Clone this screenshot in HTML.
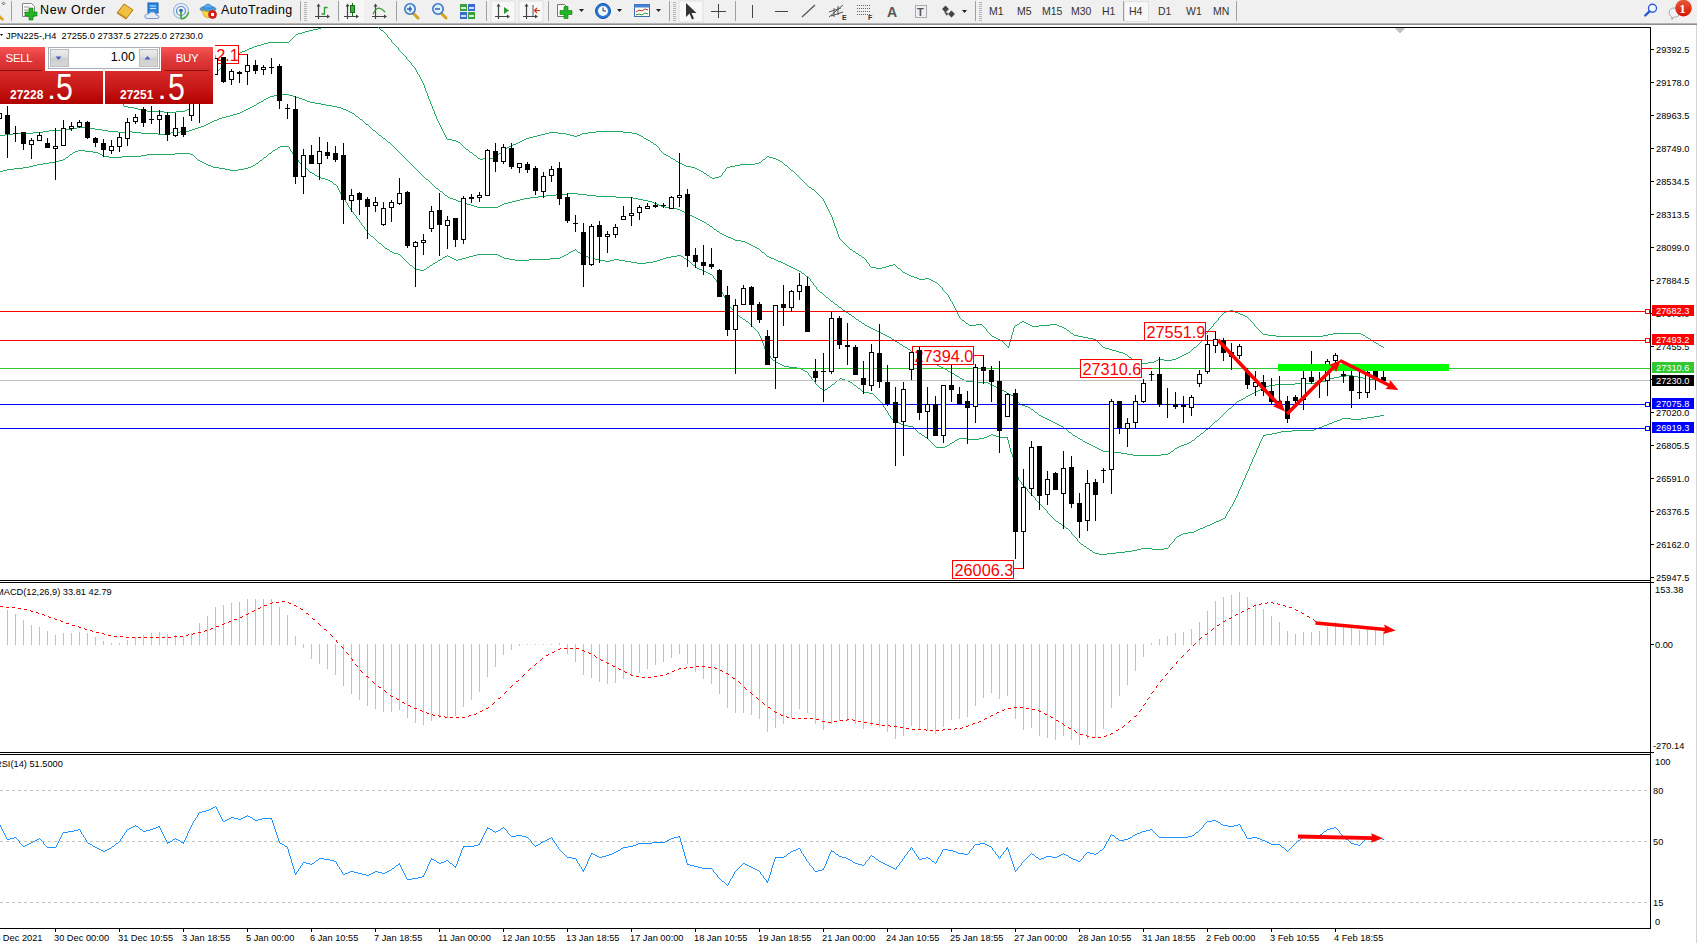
<!DOCTYPE html>
<html><head><meta charset="utf-8"><title>JPN225-,H4</title>
<style>
html,body{margin:0;padding:0;background:#fff;}
body{width:1697px;height:943px;overflow:hidden;position:relative;font-family:"Liberation Sans",sans-serif;}
#tb{position:absolute;left:0;top:0;width:1697px;height:23px;background:#f0f0f0;}
#tbl{position:absolute;left:0;top:23px;width:1697px;height:2px;background:linear-gradient(#c6c6c6,#7c7c7c);}
.t{position:absolute;white-space:nowrap;color:#000;}
.tbt{font-size:12.500px;top:3px;letter-spacing:0.350px;}
.tf{font-size:10.5px;top:5px;color:#333;}
svg{position:absolute;left:0;top:0;}
.ax{font-size:9.250px;font-family:"Liberation Sans",sans-serif;fill:#000;}
.lb{font-size:16.300px;font-family:"Liberation Sans",sans-serif;fill:#f00;}
#panel{position:absolute;left:0;top:47px;width:213px;height:57px;}
.btn{position:absolute;top:0;height:24px;background:linear-gradient(#f85555,#e03a3a 50%,#d42a2a);color:#fff;font-size:11.5px;text-align:center;line-height:23px;letter-spacing:-0.3px;}
.pr{position:absolute;top:24px;height:33px;background:linear-gradient(#d82a2a,#c81818 50%,#b00000);color:#fff;}
.pr .s{position:absolute;font-weight:bold;font-size:12px;bottom:2px;}
.pr .b{position:absolute;font-size:37px;bottom:-4.500px;transform:scaleX(0.82);transform-origin:left bottom;}
.pr .d{position:absolute;font-size:22px;bottom:-1px;font-weight:bold;}
#vol{position:absolute;left:48px;top:0;width:110px;height:20px;border:1px solid #a9afb8;background:#fff;}
.sp{position:absolute;top:1px;width:19px;height:18px;background:linear-gradient(#ececec,#dedede 45%,#cfcfcf 50%,#d6d6d6);border:1px solid #b8bcc4;box-sizing:border-box;}
</style></head><body>

<div id="tb"></div><div id="tbl"></div>
<div style="position:absolute;left:1124px;top:1px;width:25px;height:21px;background:#f8f8f8;border:1px solid #e0e0e0;box-sizing:border-box"></div>
<div class="t tbt" style="left:40px;letter-spacing:0.600px;">New Order</div>
<div class="t tbt" style="left:221px;">AutoTrading</div>
<div class="t tf" style="left:989px;">M1</div>
<div class="t tf" style="left:1017px;">M5</div>
<div class="t tf" style="left:1042px;">M15</div>
<div class="t tf" style="left:1071px;">M30</div>
<div class="t tf" style="left:1102px;">H1</div>
<div class="t tf" style="left:1129px;">H4</div>
<div class="t tf" style="left:1158px;">D1</div>
<div class="t tf" style="left:1186px;">W1</div>
<div class="t tf" style="left:1213px;">MN</div>
<svg width="1697" height="943" viewBox="0 0 1697 943" shape-rendering="crispEdges">
<g shape-rendering="auto">
<rect x="11" y="1" width="1" height="20" fill="#a0a0a0"/>
<rect x="300" y="1" width="1" height="20" fill="#a0a0a0"/>
<rect x="304" y="2" width="3" height="1" fill="#b4b4b4"/>
<rect x="304" y="4" width="3" height="1" fill="#b4b4b4"/>
<rect x="304" y="6" width="3" height="1" fill="#b4b4b4"/>
<rect x="304" y="8" width="3" height="1" fill="#b4b4b4"/>
<rect x="304" y="10" width="3" height="1" fill="#b4b4b4"/>
<rect x="304" y="12" width="3" height="1" fill="#b4b4b4"/>
<rect x="304" y="14" width="3" height="1" fill="#b4b4b4"/>
<rect x="304" y="16" width="3" height="1" fill="#b4b4b4"/>
<rect x="304" y="18" width="3" height="1" fill="#b4b4b4"/>
<rect x="304" y="20" width="3" height="1" fill="#b4b4b4"/>
<path d="M0 15 L4 19 L3 21 L0 19Z" fill="#e0a020"/>
<rect x="2.500" y="2.500" width="2" height="2" fill="none" stroke="#333" stroke-width="0.7" transform="rotate(45 3.5 3.5)"/>
<path d="M22.5 3.5h9l3 3v10h-12z" fill="#fafafa" stroke="#888"/>
<path d="M24 7h5M24 10h8M24 12.5h6" stroke="#999" stroke-width="1"/>
<path d="M29 9.5h4v4h4v4h-4v4h-4v-4h-4v-4h4z" fill="#22b422" stroke="#0a7a0a" stroke-width="0.6" transform="translate(0,-1.5)"/>
<path d="M117 13 L124 4 L133 10 L126 19 Z" fill="#f0c040" stroke="#b07810"/>
<path d="M117 13 L126 19 L126 17 L118 12Z" fill="#c89020"/>
<rect x="148" y="3" width="10" height="10" fill="#2a8ae0" stroke="#1560b0"/>
<path d="M150 6h6M150 8.5h6" stroke="#cfe6ff"/>
<path d="M147 18.500 q-3-0.500-2-3 q1-2 3.500-1.500 q1.500-3 5-2 q2.500 0.500 2.500 3 q3 0 3 2 q0 1.500-2 1.500z" fill="#e4ecf8" stroke="#6a8cc8" stroke-width="0.9"/>
<circle cx="181" cy="11" r="7.5" fill="none" stroke="#9ab8e8" stroke-width="1.2"/>
<circle cx="181" cy="11" r="4.5" fill="none" stroke="#5a8ad8" stroke-width="1.2"/>
<circle cx="181" cy="10.5" r="1.8" fill="#2060d0"/>
<path d="M181 11 V19" stroke="#30a030" stroke-width="1.6"/><path d="M181 19 A8 8 0 0 0 188.500 12" stroke="#40b040" stroke-width="1.6" fill="none"/>
<ellipse cx="208" cy="9" rx="8" ry="3" fill="#4a9ae0" stroke="#2a70b8" stroke-width="0.6"/>
<path d="M203 8 q5-8 10 0z" fill="#5aaaf0" stroke="#2a70b8" stroke-width="0.6"/>
<path d="M202 10 q6 3 12 0 l-3 7 q-4 2 -7-1z" fill="#f8d840" stroke="#c09010" stroke-width="0.6"/>
<circle cx="212.500" cy="14.5" r="4" fill="#e02020" stroke="#a01010" stroke-width="0.6"/>
<rect x="211" y="13" width="3" height="3" fill="#fff"/>
<path d="M318.5 5 V19 M315 16.5 H328" stroke="#444" stroke-width="1.2" fill="none"/>
<path d="M318.5 3.500 l-2 3 h4z M330 16.500 l-3 -2 v4z" fill="#444"/>
<path d="M324.500 7 V14.500 M324.500 7.500 h3 M324.500 14 h-3" stroke="#2a9a2a" stroke-width="1.3" fill="none"/>
<rect x="338" y="1" width="1" height="20" fill="#a0a0a0"/>
<rect x="340" y="0" width="24" height="22" fill="#f7f7f7"/>
<path d="M347.5 5 V19 M344 16.5 H357" stroke="#444" stroke-width="1.2" fill="none"/>
<path d="M347.5 3.500 l-2 3 h4z M359 16.500 l-3 -2 v4z" fill="#444"/>
<rect x="350.500" y="5.5" width="4" height="7" fill="#3ab03a" stroke="#1a701a"/><path d="M352.500 3V5M352.500 13v3" stroke="#1a701a"/>
<path d="M375.5 5 V19 M372 16.5 H385" stroke="#444" stroke-width="1.2" fill="none"/>
<path d="M375.5 3.500 l-2 3 h4z M387 16.500 l-3 -2 v4z" fill="#444"/>
<path d="M373 14 q3-6 6-5.800 q3 0.300 6 3.800" stroke="#2a9a2a" stroke-width="1.2" fill="none"/>
<rect x="396" y="1" width="1" height="20" fill="#a0a0a0"/>
<path d="M413 13 l5 5" stroke="#d8a020" stroke-width="3" stroke-linecap="round"/>
<circle cx="410" cy="9" r="5.2" fill="#dff0ff" stroke="#3a78c8" stroke-width="1.6"/>
<path d="M407 9h5" stroke="#2a60b0" stroke-width="1.5"/>
<path d="M410 6.5v5" stroke="#2a60b0" stroke-width="1.5"/>
<path d="M441 13 l5 5" stroke="#d8a020" stroke-width="3" stroke-linecap="round"/>
<circle cx="438" cy="9" r="5.2" fill="#dff0ff" stroke="#3a78c8" stroke-width="1.6"/>
<path d="M435 9h5" stroke="#2a60b0" stroke-width="1.5"/>
<rect x="460" y="4" width="7" height="7" fill="#3aa03a"/>
<rect x="461" y="7" width="5" height="2" fill="#fff" opacity="0.8"/>
<rect x="468" y="4" width="7" height="7" fill="#3a6ad0"/>
<rect x="469" y="7" width="5" height="2" fill="#fff" opacity="0.8"/>
<rect x="460" y="12" width="7" height="7" fill="#3a6ad0"/>
<rect x="461" y="15" width="5" height="2" fill="#fff" opacity="0.8"/>
<rect x="468" y="12" width="7" height="7" fill="#3aa03a"/>
<rect x="469" y="15" width="5" height="2" fill="#fff" opacity="0.8"/>
<rect x="486" y="1" width="1" height="20" fill="#a0a0a0"/>
<rect x="491" y="1" width="24" height="21" fill="#f8f8f8" stroke="#e0e0e0"/>
<path d="M498.5 5 V19 M495 16.5 H508" stroke="#444" stroke-width="1.2" fill="none"/>
<path d="M498.5 3.500 l-2 3 h4z M510 16.500 l-3 -2 v4z" fill="#444"/>
<path d="M504 7 l5 3.500 l-5 3.500z" fill="#2a9a2a"/>
<rect x="519" y="1" width="24" height="21" fill="#f8f8f8" stroke="#e0e0e0"/>
<path d="M526.5 5 V19 M523 16.5 H536" stroke="#444" stroke-width="1.2" fill="none"/>
<path d="M526.5 3.500 l-2 3 h4z M538 16.500 l-3 -2 v4z" fill="#444"/>
<path d="M533 5v11" stroke="#555"/><path d="M540 10.5h-5m2-2.500l-2.500 2.500 2.500 2.500" stroke="#d03010" fill="none" stroke-width="1.2"/>
<rect x="548" y="1" width="1" height="20" fill="#a0a0a0"/>
<path d="M557.500 4.500h7l3 3v9h-10z" fill="#fafafa" stroke="#777"/>
<path d="M564 9.500h4v4h4v4h-4v4h-4v-4h-4v-4h4z" fill="#22b422" stroke="#0a7a0a" stroke-width="0.6" transform="translate(0,-3)"/>
<path d="M579 9h5l-2.500 3z" fill="#222"/>
<circle cx="603" cy="11" r="7.5" fill="#2a78d8" stroke="#1a50a0"/><circle cx="603" cy="11" r="5" fill="#f4f8ff"/><path d="M603 7.500V11h3" stroke="#333" fill="none"/>
<path d="M617 9h5l-2.500 3z" fill="#222"/>
<rect x="634.500" y="4.500" width="15" height="12" fill="#fff" stroke="#3a6ab8"/><rect x="634.500" y="4.500" width="15" height="3" fill="#4a80d0"/>
<path d="M636 12 l3-2 3 1 3-2 3 1" stroke="#c03010" fill="none"/><path d="M636 15 l3-1 3 1 3-2 3 1" stroke="#2a9a2a" fill="none"/>
<path d="M656 9h5l-2.500 3z" fill="#222"/>
<rect x="669" y="1" width="1" height="20" fill="#a0a0a0"/>
<rect x="673" y="2" width="3" height="1" fill="#b4b4b4"/>
<rect x="673" y="4" width="3" height="1" fill="#b4b4b4"/>
<rect x="673" y="6" width="3" height="1" fill="#b4b4b4"/>
<rect x="673" y="8" width="3" height="1" fill="#b4b4b4"/>
<rect x="673" y="10" width="3" height="1" fill="#b4b4b4"/>
<rect x="673" y="12" width="3" height="1" fill="#b4b4b4"/>
<rect x="673" y="14" width="3" height="1" fill="#b4b4b4"/>
<rect x="673" y="16" width="3" height="1" fill="#b4b4b4"/>
<rect x="673" y="18" width="3" height="1" fill="#b4b4b4"/>
<rect x="673" y="20" width="3" height="1" fill="#b4b4b4"/>
<rect x="679" y="1" width="24" height="21" fill="#f8f8f8" stroke="#e0e0e0"/>
<path d="M686 3 v14 l3.500-3.500 2.500 6 2-1 -2.500-5.500 h5z" fill="#333"/>
<path d="M718.500 4v14M711 11.500h15" stroke="#444"/>
<rect x="735" y="1" width="1" height="20" fill="#a0a0a0"/>
<path d="M752.500 5v13" stroke="#444"/>
<path d="M775 11.500h13" stroke="#444"/>
<path d="M802 17 l13-12" stroke="#555" stroke-width="1.2"/>
<path d="M829 17 l14-12 M829 12 l12-4 M831 16 l12-4 M834 8v9 M838 6v9" stroke="#555" stroke-width="1"/>
<text x="842" y="20" font-size="7" font-family="Liberation Sans,sans-serif" font-weight="bold" fill="#333">E</text>
<path d="M857 5.5h14" stroke="#666" stroke-dasharray="1 1"/>
<path d="M857 8.5h14" stroke="#666" stroke-dasharray="1 1"/>
<path d="M857 11.5h14" stroke="#666" stroke-dasharray="1 1"/>
<path d="M857 14.5h14" stroke="#666" stroke-dasharray="1 1"/>
<text x="868" y="20" font-size="7" font-family="Liberation Sans,sans-serif" font-weight="bold" fill="#333">F</text>
<text x="887" y="17" font-size="14" font-family="Liberation Sans,sans-serif" font-weight="bold" fill="#555">A</text>
<rect x="915.500" y="5.500" width="11" height="12" fill="none" stroke="#666" stroke-dasharray="1 1"/>
<text x="917" y="16" font-size="11" font-family="Liberation Sans,sans-serif" font-weight="bold" fill="#555">T</text>
<path d="M942 9l3.500-3.500 3.500 3.500-3.500 3.500z M948 14l3.500-3.500 3.500 3.500-3.500 3.500z" fill="#444"/>
<path d="M944 12l3 4 1-3z" fill="#444"/>
<path d="M962 10h5l-2.500 3z" fill="#222"/>
<rect x="975" y="1" width="1" height="20" fill="#a0a0a0"/>
<rect x="979" y="2" width="3" height="1" fill="#b4b4b4"/>
<rect x="979" y="4" width="3" height="1" fill="#b4b4b4"/>
<rect x="979" y="6" width="3" height="1" fill="#b4b4b4"/>
<rect x="979" y="8" width="3" height="1" fill="#b4b4b4"/>
<rect x="979" y="10" width="3" height="1" fill="#b4b4b4"/>
<rect x="979" y="12" width="3" height="1" fill="#b4b4b4"/>
<rect x="979" y="14" width="3" height="1" fill="#b4b4b4"/>
<rect x="979" y="16" width="3" height="1" fill="#b4b4b4"/>
<rect x="979" y="18" width="3" height="1" fill="#b4b4b4"/>
<rect x="979" y="20" width="3" height="1" fill="#b4b4b4"/>
<rect x="1123" y="1" width="1" height="20" fill="#a0a0a0"/>
<rect x="1236" y="1" width="1" height="20" fill="#a0a0a0"/>
<circle cx="1652.500" cy="8.300" r="4" fill="#f4f8ff" stroke="#2a5ad0" stroke-width="1.4"/><path d="M1649.500 11.300l-4.300 4.200" stroke="#2a5ad0" stroke-width="2.4" stroke-linecap="round"/>
<path d="M1669.200 12.700 q0-4.700 5.100-4.700 q5.100 0 5.100 4.700 q0 4.500 -5.100 4.500 q-0.600 0 -1.200 -0.100 l-1 2.600 l-0.600-3 q-2.300-1.200-2.300-4z" fill="#f2f2f8" stroke="#aaa"/>
<defs><linearGradient id="bg1" x1="0" y1="0" x2="0" y2="1"><stop offset="0" stop-color="#e85a38"/><stop offset="1" stop-color="#d81400"/></linearGradient></defs>
<circle cx="1683.500" cy="8.100" r="8.300" fill="url(#bg1)"/>
<text x="1679.300" y="13" font-size="13" font-weight="bold" font-family="Liberation Serif,serif" fill="#fff">1</text>
</g>
<rect x="0" y="27" width="1651" height="1" fill="#000"/>
<rect x="1650" y="27" width="1" height="902" fill="#000"/>
<rect x="0" y="580" width="1651" height="1" fill="#000"/>
<rect x="0" y="582" width="1651" height="1" fill="#000"/>
<rect x="0" y="752" width="1651" height="1" fill="#000"/>
<rect x="0" y="754" width="1651" height="1" fill="#000"/>
<rect x="0" y="928" width="1651" height="1" fill="#000"/>
<rect x="1696" y="25" width="1" height="918" fill="#d4d4d4"/>
<path d="M1394 28 h11 l-5.500 5.500z" fill="#c0c0c0"/>
<path fill="none" stroke="#24A862" stroke-width="1" d="M318 28.5h3m-8 1h5m-9 1h4m-8 1h4m-7 1h3m-7 1h4m-6 1h2m-3 1h1m-2 1h1m-2 1h1m-2 1h1m-2 1h1m-2 1h1m-2 1h1m-22 1h21m-25 1h4m-7 1h3m-7 1h4m-7 1h3m-5 1h2m-5 1h3m-5 1h2m-4 1h2m-5 1h3m-5 1h2m-4 1h2m-4 1h2m-3 1h1m-3 1h2m-3 1h1m-2 1h1m-3 1h2m-3 1h1m-3 1h2m-3 1h1m-2 1h1m-2 1h1m-1.5 0.5v2m-1.5 0.5h1m-2 1h1m-2 1h1m-2 1h1m-1.5 0.5v2m-1.5 0.5h1m-2 1h1m-2 1h1m-2 1h1m-1.5 0.5v2m-1.5 0.5h1m-2 1h1m-2 1h1m-2 1h1m-1.5 0.5v2m-1.5 0.5h1m-2 1h1m-2 1h1m-2 1h1m-1.5 0.5v2m-1.5 0.5h1m-2 1h1m-1.5 0.5v2m-199.5 -0.5h8m0 1h15m175 0h1m-176 1h15m159 0h1m-160 1h15m143.5 -0.5v2m-143.5 -0.5h23m0 1h26m93 0h1m-94 1h12m80 0h1m-81 1h4m75.5 -0.5v2m-75.5 -0.5h3m0 1h2m69 0h1m-69.5 0.5v2m68 -2v2m-67.5 0.5h4m62.5 -0.5v2m-62.5 -0.5h6m0 1h4m51 0h1m-52 1h5m44 0h2m-46 1h4m38 0h2m-40 1h17m12 0h9m-21 1h12"/>
<path fill="none" stroke="#24A862" stroke-width="1" d="M378 27.5h1m0 1h1m0 1h1m0 1h2m0 1h1m0 1h1m0 1h1m0 1h1m0.5 0.5v2m0.5 0.5h1m0 1h1m0 1h1m0.5 0.5v2m0.5 0.5h1m0 1h1m0 1h1m0 1h1m0 1h1m0 1h1m0.5 0.5v2m0.5 0.5h1m0 1h1m0 1h1m0 1h1m0 1h1m0 1h1m0 1h1m0.5 0.5v2m0.5 0.5h1m0 1h1m0 1h1m0 1h1m0.5 0.5v2m0.5 0.5h1m0 1h1m0 1h1m0.5 0.5v2m1 0v2m1 0v2m0.5 0.5h1m0.5 0.5v2m1 0v2m1 0v2m1 0v2m1 0v2m1 0v3m1 0v3m1 0v2m1 0v3m1 0v3m1 0v2m1 0v3m1 0v2m1 0v3m1 0v2m1 0v3m1 0v2m1 0v3m1 0v2m1 0v2m1 0v2m1 0v2m1 0v2m1 0v2m1 0v2m152.5 -1.5h27m-74 1h9m30 0h8m27 0h9m-187.5 0.5v2m100.5 -1.5h4m9 0h8m16 0h6m44 0h5m-96 1h4m21 0h4m10 0h2m55 0h2m-193.5 0.5v2m91.5 -1.5h4m29 0h4m3 0h3m59 0h2m-108 1h4m37 0h3m64 0h2m-196.5 0.5v2m82.5 -1.5h4m110 0h1m-118 1h3m115 0h2m-199 1h5m72 0h2m120 0h2m-196 1h4m66 0h2m124 0h2m-194 1h2m62 0h2m128 0h1m-193 1h2m58 0h2m131 0h2m-193 1h1m55 0h2m135 0h1m-193 1h1m51 0h3m138 0h2m-194 1h1m48 0h2m143 0h1m-194 1h1m45 0h2m146 0h1m-194 1h1m42 0h2m149 0h1m-194 1h1m39 0h2m152.5 -0.5v2m-193.5 -0.5h2m36 0h1m-37 1h1m34 0h1m156 0h1m-192 1h1m32 0h1m158 0h1m-192 1h2m29 0h1m160 0h1m-191 1h1m26 0h2m162 0h1m-191 1h1m24 0h1m165 0h2m-192 1h2m21 0h1m168 0h2m-192 1h1m19 0h1m171 0h2m97 0h2m-292 1h1m17 0h1m174 0h1m95 0h1m2 0h4m-295 1h2m3 0h12m176 0h2m92 0h1m7 0h3m-296 1h3m190 0h2m88 0h2m11 0h2m-103 1h1m86 0h1m15 0h2m-104 1h2m83 0h1m18 0h2m-104 1h2m79 0h2m21 0h1m-103 1h2m73 0h4m24 0h1m-102 1h2m56 0h15m29 0h1m-101 1h2m49 0h5m45 0h2m-101 1h5m39 0h5m52 0h1m-97 1h4m32 0h3m58 0h1m-94 1h2m29 0h1m62 0h1m-93 1h2m26.5 -0.5v2m64.5 -1.5h1m-92 1h2m90 0h2m-92 1h2m21 0h1m68 0h1m-91 1h1m19 0h1m70 0h1m-91 1h2m16.5 -0.5v2m72.5 -1.5h1m-90 1h1m89 0h1m-90 1h2m12 0h1m75 0h1m-89 1h1m9 0h2m77 0h1m-89 1h2m3 0h4m80 0h1m-88 1h3m85 0h1m0 1h1m0 1h1m0 1h1m0 1h1m0 1h1m0 1h1m0 1h1m0 1h1m0 1h2m0 1h1m0 1h2m0 1h1m0 1h1m0 1h1m0 1h1m0 1h1m0 1h1m0 1h1m0 1h1m0 1h1m0.5 0.5v2m1 0v2m1 0v2m1 0v2m1 0v2m1 0v2m1 0v2m1 0v2m1 0v2m1 0v3m1 0v3m1 0v3m1 0v2m1 0v3m1 0v3m1 0v3m1 0v2m0.5 0.5h1m0 1h1m0 1h1m0 1h1m0 1h1m0 1h1m0 1h1m0 1h1m0 1h1m0 1h1m0 1h2m0 1h1m0 1h2m0 1h1m0 1h2m0 1h1m0 1h2m0 1h1m0 1h2m0 1h1m0 1h1m0.5 0.5v2m0.5 0.5h1m0 1h1m0.5 0.5v2m23.5 -1.5h2m-6 1h4m2 0h1m-26 1h1m15 0h3m7 0h1m-26 1h5m6 0h4m11 0h1m-22 1h6m16 0h2m0 1h1m0 1h1m0 1h1m0 1h2m0 1h2m0 1h2m0 1h2m0 1h3m0 1h3m0 1h2m6 0h4m-10 1h6m4 0h2m0 1h2m0 1h2m0 1h2m0 1h1m0 1h1m0 1h1m0 1h1m0 1h1m0.5 0.5v2m0.5 0.5h1m0 1h1m0 1h1m0 1h1m0 1h1m0.5 0.5v2m1 0v2m1 0v2m0.5 0.5h1m0.5 0.5v2m1 0v2m1 0v2m1 0v2m1 0v2m273.5 -1.5h3m-7 1h4m3 0h2m-277.5 0.5v2m266.5 -1.5h2m9 0h3m-15 1h1m14 0h2m-281.5 0.5v2m263.5 -1.5h1m17 0h3m-22 1h1m21 0h2m-285.5 0.5v2m260.5 -1.5h1m24 0h2m-28 1h1m27 0h1m-288 1h1m257.5 -0.5v2m29.5 -1.5h1m-288 1h1m287 0h1m-288 1h2m253 0h1m32 0h1m-287 1h1m57 0h2m192 0h1m34 0h1m-287 1h1m54 0h2m2 0h2m189 0h1m36 0h1m-287 1h2m51 0h1m6 0h2m186 0h1m38 0h1m-286 1h1m7 0h6m35 0h2m9 0h2m20 0h7m156.5 -0.5v2m41 -2v2m-285.5 -0.5h7m6 0h1m32 0h2m13 0h2m7 0h11m7 0h2m-76 1h1m30.5 -0.5v2m17.5 -1.5h7m20 0h3m150 0h1m42 0h1m-272 1h1m77 0h2m147 0h1m44 0h1m-272 1h1m27.5 -0.5v4m50.5 -3.5h2m144 0h1m46 0h1m-271.5 0.5v2m79.5 -1.5h1m142 0h1m48 0h1m-192 1h2m139.5 -0.5v2m50.5 -1.5h1m-273 1h1m81 0h1m190 0h1m-273 1h1m23.5 -0.5v3m57.5 -2.5h1m136 0h1m53 0h1m-273 1h1m81 0h2m133 0h1m55 0h1m70 0h28m-371 1h1m82 0h1m131.5 -0.5v2m57.5 -1.5h5m60 0h5m28 0h2m-372 1h1m19.5 -0.5v4m62.5 -3.5h4m190 0h8m47 0h5m35 0h2m-373 1h2m84 0h5m121 0h1m71 0h47m42 0h1m-372 1h2m87 0h5m115.5 -0.5v2m162.5 -1.5h2m-372 1h2m90 0h5m275 0h2m-372 1h2m10.5 -0.5v3m82.5 -2.5h3m106 0h1m167 0h1m-371 1h2m94 0h1m104.5 -0.5v2m169.5 -1.5h2m-371 1h1m94 0h1m275 0h1m-371 1h1m5.5 -0.5v4m88.5 -3.5h1m101 0h1m173 0h2m-372 1h1m94 0h1m99 0h1m176 0h2m-373 1h1m94 0h1m97 0h1m179 0h1m-373 1h1m94 0h1m95 0h1m181 0h2m-374 1h2m93 0h1m93 0h1m184 0h2m-375 1h1m94 0h2m89 0h2m187 0h1m-279 1h4m84 0h1m-85 1h3m80 0h1m-81 1h4m75 0h1m-76 1h3m71 0h1m-72 1h4m65 0h2m-67 1h2m61 0h2m-63 1h2m57 0h2m-59 1h1m54 0h2m-56 1h1m51 0h2m-53 1h2m47 0h2m-49 1h1m44 0h2m-46 1h2m24 0h6m8 0h4m-42 1h2m20 0h2m6 0h8m-36 1h3m15 0h2m-17 1h2m7 0h6m-13 1h7"/>
<path fill="none" stroke="#24A862" stroke-width="1" d="M282 94.5h7m-15 1h8m7 0h4m-23 1h4m19 0h3m-28 1h2m26 0h3m-33 1h2m31 0h3m-38 1h2m36 0h3m-42 1h1m41 0h2m-46 1h2m44 0h3m-51 1h2m49 0h5m-58 1h2m56 0h6m-65 1h1m64 0h5m-72 1h2m70 0h6m-80 1h2m78 0h5m-87 1h2m85 0h4m-93 1h2m91 0h2m-97 1h2m95 0h3m-102 1h2m100 0h2m-106 1h2m104 0h2m-110 1h2m108 0h2m-115 1h3m112 0h2m-121 1h4m117 0h1m-125 1h3m122 0h1m-130 1h4m126 0h2m-136 1h4m132 0h1m-140 1h3m137 0h1m-143 1h2m141 0h2m-148 1h3m145 0h1m-151 1h2m149 0h1m-154 1h2m152 0h1m-157 1h2m155 0h1m-160 1h2m158 0h2m-164 1h2m162 0h1m-168 1h3m165 0h1m-293 1h12m109 0h3m169 0h1m-300 1h6m12 0h6m100 0h3m173 0h1m-307 1h6m24 0h7m90 0h3m177 0h1m-324 1h16m37 0h6m81 0h3m181 0h2m-332 1h6m59 0h10m10 0h4m48 0h9m186 0h1m-343 1h10m75 0h10m4 0h9m30 0h9m196 0h1m-364 1h20m108 0h17m10 0h3m206 0h1m-373 1h8m145 0h10m210 0h1m-379 1h5m374 0h2m0 1h1m0 1h1m0 1h2m0 1h1m0 1h1m0 1h1m0 1h2m0 1h1m0 1h1m0 1h1m0 1h1m0 1h1m0 1h1m0 1h1m0 1h1m0 1h1m0 1h1m0 1h1m0 1h1m0 1h1m0 1h1m0 1h1m0 1h1m0 1h1m0 1h1m0 1h1m0 1h1m0 1h1m0 1h1m0 1h1m0 1h1m0 1h1m0 1h1m0 1h1m0 1h1m0 1h1m0 1h1m0 1h1m0 1h1m0 1h1m0 1h1m0 1h1m0 1h1m0 1h2m0 1h1m0 1h1m0 1h1m0 1h1m0 1h1m0 1h1m0 1h1m0 1h1m0 1h2m0 1h1m0 1h1m0 1h2m0 1h1m0 1h1m124 0h10m-134 1h1m111 0h12m10 0h9m-142 1h2m99 0h10m31 0h9m-149 1h1m90 0h8m50 0h20m-168 1h2m80 0h8m78 0h17m-183 1h3m71 0h6m103 0h5m-185 1h3m64 0h4m114 0h5m-187 1h2m58 0h4m123 0h5m-190 1h3m51 0h4m132 0h4m-191 1h3m44 0h4m140 0h2m-190 1h3m37 0h4m146 0h3m-190 1h4m31 0h2m153 0h2m-188 1h3m26 0h2m157 0h2m-187 1h3m21 0h2m161 0h4m-188 1h21m167 0h6m0 1h6m0 1h3m0 1h2m0 1h2m0 1h2m0 1h2m0 1h2m0 1h2m0 1h2m0 1h2m0 1h2m0 1h2m0 1h2m0 1h2m0 1h2m0 1h1m0 1h2m0 1h1m0 1h2m0 1h1m0 1h1m0 1h2m0 1h1m0 1h2m0 1h1m0 1h2m0 1h2m0 1h2m0 1h2m0 1h3m0 1h2m0 1h2m0 1h6m0 1h4m0 1h2m0 1h2m0 1h2m0 1h2m0 1h2m0 1h2m0 1h2m0 1h1m0 1h1m0 1h1m0 1h2m0 1h1m0 1h1m0 1h1m0 1h2m0 1h2m0 1h3m0 1h2m0 1h2m0 1h3m0 1h2m0 1h2m0 1h2m0 1h2m0 1h2m0 1h2m0 1h2m0 1h2m0 1h2m0 1h2m0 1h1m0 1h2m0 1h1m0 1h1m0 1h2m0 1h1m0 1h1m0.5 0.5v2m0.5 0.5h1m0 1h1m0.5 0.5v2m0.5 0.5h1m0 1h1m0.5 0.5v2m0.5 0.5h1m0 1h1m0 1h1m0 1h2m0 1h1m0 1h1m0 1h1m0 1h1m0 1h2m0 1h1m0 1h1m0 1h1m0 1h2m0 1h1m0 1h1m0 1h2m0 1h1m0 1h1m0 1h2m0 1h1m0 1h1m0 1h2m0 1h1m0 1h2m0 1h1m0 1h2m0 1h1m0 1h2m0 1h1m0 1h1m0 1h2m0 1h1m0 1h2m0 1h1m0 1h2m0 1h1m0 1h2m0 1h2m0 1h2m0 1h2m0 1h2m0 1h2m0 1h2m0 1h2m0 1h2m0 1h2m0 1h2m0 1h2m0 1h2m0 1h1m0 1h2m0 1h1m0 1h2m0 1h2m0 1h1m0 1h2m0 1h1m0 1h2m0 1h2m0 1h1m0 1h2m0 1h1m0 1h2m0 1h2m0 1h2m0 1h2m0 1h2m0 1h2m0 1h1m0 1h2m0 1h2m0 1h2m0 1h2m0 1h2m0 1h1m0 1h2m0 1h2m0 1h2m0 1h2m0 1h2m0 1h2m0 1h1m0 1h2m0 1h2m0 1h2m0 1h1m0 1h2m389 0h7m-396 1h2m380 0h7m7 0h5m-399 1h1m374 0h5m19 0h5m-403 1h2m368 0h4m29 0h7m-408 1h2m364 0h2m40 0h9m-415 1h2m360 0h2m51 0h5m-418 1h11m344 0h5m-349 1h11m327 0h6m-333 1h2m305 0h20m-325 1h2m283 0h20m-303 1h2m275 0h6m-281 1h2m270 0h3m-273 1h2m266 0h2m-268 1h2m262 0h2m-264 1h2m258 0h2m-260 1h2m254 0h2m-256 1h2m250 0h2m-252 1h1m247 0h2m-249 1h2m243 0h2m-245 1h2m239 0h2m-241 1h2m235 0h2m-237 1h1m232 0h2m-234 1h1m230 0h1m-231 1h1m227 0h2m-228.5 0.5v2m224.5 -1.5h2m-4 1h2m-224 1h1m219 0h2m-221 1h1m217 0h1m-218 1h1m215 0h1m-216 1h2m212 0h1m-213 1h3m208 0h1m-209 1h3m204 0h1m-205 1h2m201 0h1m-202 1h1m198 0h2m-200 1h2m195 0h1m-196 1h1m193 0h1m-194 1h1m191 0h1m-192 1h2m188 0h1m-189 1h1m186 0h1m-187 1h1m184 0h1m-185 1h2m181 0h1m-182 1h2m178 0h1m-179 1h2m175 0h1m-176 1h2m172 0h1m-173 1h2m169 0h1m-170 1h2m166 0h1m-167 1h2m162 0h2m-164 1h2m159 0h1m-160 1h2m156 0h1m-157 1h2m153 0h1m-154 1h2m150 0h1m-151 1h2m147 0h1m-148 1h1m145 0h1m-146 1h2m142 0h1m-143 1h1m139 0h2m-141 1h1m137 0h1m-138 1h1m135 0h1m-136 1h2m132 0h1m-133 1h1m129 0h2m-131 1h1m127 0h1m-128 1h2m124 0h1m-125 1h2m120 0h2m-122 1h1m118 0h1m-119 1h2m115 0h1m-116 1h2m112 0h1m-113 1h1m109 0h2m-111 1h2m106 0h1m-107 1h2m102 0h2m-104 1h2m98 0h2m-100 1h2m93 0h3m-96 1h2m88 0h3m-91 1h2m84 0h2m-86 1h2m80 0h2m-82 1h2m76 0h2m-78 1h2m73 0h1m-74 1h2m70 0h1m-71 1h9m59 0h2m-61 1h9m49 0h1m-50 1h6m41 0h2m-43 1h6m28 0h7m-35 1h28"/>
<path fill="none" stroke="#24A862" stroke-width="1" d="M280 146.5h9m-11 1h2m9.5 -0.5v2m-12.5 -0.5h1m-3 1h2m13.5 -0.5v2m-212.5 -0.5h7m188 0h2m-200 1h3m7 0h8m179 0h1m18 0h1m-219 1h2m18 0h5m173 0h1m20.5 -0.5v2m-220.5 -0.5h1m25 0h2m75 0h15m79 0h2m-201 1h2m28 0h2m45 0h28m15 0h3m75 0h1m24 0h1m-225 1h1m32 0h2m37 0h6m46 0h1m73 0h1m26 0h1m-227 1h1m35 0h5m13 0h19m53 0h1m71 0h1m28.5 -0.5v2m-229.5 -0.5h2m41 0h13m73 0h1m68 0h2m-201 1h1m130 0h1m66 0h1m32 0h1m-234 1h2m132 0h1m64 0h1m34 0h1m-239 1h4m135 0h2m60 0h2m36.5 -0.5v2m-243.5 -0.5h4m141 0h2m57 0h1m-211 1h6m147 0h2m54 0h1m40 0h1m-257 1h6m155 0h2m50 0h2m42 0h1m-264 1h6m163 0h2m47 0h1m45 0h1m-269 1h4m171 0h3m42 0h2m47 0h1m-274 1h4m178 0h2m38 0h2m50 0h2m-282 1h6m184 0h6m29 0h3m54 0h1m-292 1h9m196 0h6m19 0h4m58 0h1m-300 1h7m211 0h5m8 0h6m63 0h1m-305 1h4m223 0h8m70 0h1m-309 1h3m306 0h1m0 1h2m0 1h2m0 1h1m0 1h2m0 1h2m0 1h2m0 1h4m0 1h3m0 1h2m0 1h2m0 1h1m0 1h1m0 1h2m0 1h1m0.5 0.5v2m1 0v2m1 0v2m1 0v2m0.5 0.5h1m0.5 0.5v2m1 0v2m0.5 0.5h1m0.5 0.5v2m0.5 0.5h1m0.5 0.5v2m1 0v2m0.5 0.5h1m0.5 0.5v2m0.5 0.5h1m0 1h1m0.5 0.5v2m0.5 0.5h1m0 1h1m0.5 0.5v2m0.5 0.5h1m0 1h1m0.5 0.5v2m0.5 0.5h1m0.5 0.5v2m0.5 0.5h1m0 1h1m0.5 0.5v2m0.5 0.5h1m0 1h1m0.5 0.5v2m0.5 0.5h1m0 1h1m0 1h1m0 1h2m0 1h1m0 1h1m0 1h1m0 1h1m0 1h1m0 1h1m0 1h2m0 1h1m0 1h1m0 1h1m0 1h1m0 1h2m0 1h2m186 0h1m-187 1h1m183 0h2m1 0h1m-187 1h2m179 0h2m4 0h1m-186 1h2m175 0h2m7 0h2m-186 1h4m170 0h1m11 0h1m-183 1h2m77 0h21m68 0h2m13 0h1m-182 1h1m46 0h1m25 0h4m21 0h2m64 0h2m16 0h2m93 0h4m-280 1h1m43 0h2m1 0h2m19 0h4m27 0h2m60 0h2m20 0h4m83 0h6m4 0h2m-281 1h1m40 0h2m5 0h2m14 0h3m33 0h2m56 0h2m26 0h4m74 0h5m12 0h1m-281 1h1m38 0h1m9 0h2m8 0h4m38 0h5m41 0h10m32 0h3m68 0h3m18 0h2m-282 1h1m35 0h2m12 0h2m2 0h4m47 0h6m14 0h21m45 0h4m15 0h5m41 0h3m23 0h1m-282 1h1m32 0h2m16 0h2m57 0h14m70 0h6m5 0h4m5 0h6m32 0h3m27 0h2m-283 1h1m30 0h1m167 0h5m15 0h6m22 0h4m32 0h1m-283 1h1m27 0h2m194 0h6m9 0h7m37 0h1m-283 1h1m24 0h2m202 0h9m45 0h1m-283 1h1m22 0h1m259 0h1m-283 1h2m18 0h2m261 0h2m-283 1h1m16 0h1m265 0h1m-283 1h1m13 0h2m267 0h1m-283 1h1m11 0h1m270 0h2m-284 1h5m4 0h2m273 0h3m-282 1h4m278 0h2m0 1h2m0 1h2m0 1h2m0 1h2m0 1h1m0.5 0.5v2m0.5 0.5h1m0 1h1m0.5 0.5v2m1 0v2m1 0v2m1 0v2m1 0v2m1 0v2m1 0v2m1 0v2m1 0v2m1 0v2m1 0v2m1 0v2m1 0v2m0.5 0.5h1m0 1h1m0 1h1m0 1h1m0 1h1m0 1h1m0 1h1m0 1h1m0 1h1m0 1h1m0 1h1m0 1h2m0 1h1m0 1h2m0 1h1m0 1h2m0 1h1m0 1h1m0 1h1m0 1h1m0 1h1m0 1h1m0 1h1m0 1h1m0 1h1m0 1h1m0.5 0.5v2m1 0v2m1 0v2m1 0v2m1 0v3m1 0v3m1 0v3m1 0v2m0.5 0.5h1m0.5 0.5v2m0.5 0.5h1m0 1h1m0.5 0.5v2m0.5 0.5h1m0 1h1m0 1h2m0 1h1m0 1h2m0 1h2m0 1h2m0 1h2m0 1h5m0 1h8m0 1h4m0 1h2m0 1h2m0 1h2m0 1h1m0.5 0.5v2m0.5 0.5h1m0 1h1m0.5 0.5v2m28.5 -0.5h2m-30 1h1m26 0h1m2 0h3m-32 1h1m23 0h2m6 0h3m-34 1h1m21 0h1m11 0h2m-34.5 0.5v2m19.5 -1.5h1m14 0h2m-18 1h1m17 0h1m-37 1h1m15 0h2m19 0h1m-37 1h1m13 0h1m22 0h2m-38 1h1m11 0h1m25 0h1m-38 1h1m8 0h2m27 0h1m-38 1h2m5 0h1m30 0h2m-38 1h2m1 0h2m33 0h1m-37 1h1m36 0h1m0 1h2m0 1h5m0 1h4m0 1h1m0 1h1m0 1h1m0 1h1m0 1h1m0 1h1m0 1h1m0 1h1m0 1h1m0.5 0.5v2m1 0v2m0.5 0.5h1m0.5 0.5v2m0.5 0.5h1m0.5 0.5v2m1 0v2m0.5 0.5h1m490 0h4m-493.5 0.5v2m483.5 -1.5h6m-13 1h7m-483 1h1m450 0h9m10 0h6m-475 1h2m446 0h2m9 0h10m-467 1h2m441 0h3m-444 1h2m436 0h3m-439 1h1m433 0h2m-435 1h2m428 0h3m-431 1h2m424 0h2m-426 1h5m416 0h3m-419 1h5m409 0h2m-411 1h1m405 0h3m-408 1h1m401 0h3m-404 1h1m398 0h2m-400 1h1m375 0h22m-397 1h1m363 0h11m-374 1h1m358 0h4m-362 1h2m351 0h5m-356 1h1m69 0h2m273 0h6m-350 1h2m65 0h2m2 0h3m267 0h3m-342 1h1m62 0h2m7 0h3m264 0h1m-339 1h2m57 0h3m12 0h9m254.5 -0.5v2m-335.5 -0.5h1m31 0h9m11 0h5m23.5 -0.5v2m-79.5 -0.5h1m28 0h2m9 0h11m282.5 -0.5v2m-332.5 -0.5h1m25 0h2m51.5 -0.5v4m-78.5 -2.5h1m23 0h1m305.5 -0.5v2m-329.5 -0.5h1m20 0h2m-22 1h1m17 0h2m307.5 -0.5v3m-326.5 -1.5h1m15 0h1m59.5 -0.5v4m-75.5 -2.5h1m12 0h2m-14 1h1m9 0h2m311.5 -0.5v2m-322.5 -0.5h9m65.5 0.5v4m247 -4v2m-1 0v3m-245 -1v2m244 -1v2m-243 -1v3m242 -2v2m-241 0v2m240 -2v2m-239 0v4m238 -4v3m-1 0v2m-236 -1v5m235 -4v2m-1 0v3m-233 -1v4m232 -3v2m-1 0v2m-230 -1v5m229 -4v2m-1 0v3m-227 -1v3m226 -2v2m-225.5 0.5h1m223.5 -0.5v2m-223.5 -0.5h1m0.5 0.5v2m221 -2v3m-220.5 -0.5h1m0 1h1m217.5 -0.5v2m-217.5 -0.5h1m0 1h1m214.5 -0.5v2m-214.5 -0.5h1m0.5 0.5v2m212 -2v2m-211.5 0.5h1m209.5 -0.5v3m-209.5 -1.5h1m0 1h1m0 1h1m205.5 -0.5v2m-205.5 -0.5h1m0 1h1m202.5 -0.5v2m-202.5 -0.5h1m0.5 0.5v2m200 -2v2m-199.5 0.5h1m197.5 -0.5v2m-197.5 -0.5h1m0 1h1m194.5 -0.5v2m-194.5 -0.5h1m0 1h1m191.5 -0.5v2m-191.5 -0.5h1m0 1h1m188 0h1m-189 1h1m186.5 -0.5v2m-186.5 -0.5h1m0 1h1m183.5 -0.5v2m-183.5 -0.5h1m0.5 0.5v2m180.5 -1.5h1m-1.5 0.5v2m-179.5 -0.5h1m0 1h1m176.5 -0.5v2m-176.5 -0.5h1m0 1h1m173.5 -0.5v2m-173.5 -0.5h1m0 1h1m169 0h2m-171 1h1m166 0h2m-168 1h1m163 0h2m-165 1h2m158 0h3m-161 1h1m155 0h2m-157 1h2m151 0h2m-153 1h1m148 0h2m-150 1h1m144 0h3m-147 1h2m140 0h2m-142 1h1m137 0h2m-139 1h2m132 0h3m-135 1h1m129 0h2m-131 1h1m126 0h2m-128 1h1m123 0h2m-124.5 0.5v2m116.5 -1.5h6m-11 1h5m-116 1h1m108 0h2m-110 1h1m105 0h2m-107 1h1m102 0h2m-104 1h1m100 0h1m-101 1h1m98 0h1m-98.5 0.5v2m97 -2v2m-96.5 0.5h1m94 0h1m-95 1h1m92 0h1m-93 1h1m90 0h1m-91 1h2m87 0h1m-88 1h1m85.5 -0.5v2m-85.5 -0.5h2m0 1h1m81 0h1m-82 1h2m52 0h11m12 0h4m-79 1h1m47 0h4m11 0h12m-74 1h2m40 0h5m-45 1h1m32 0h7m-39 1h2m21 0h9m-30 1h4m8 0h9m-17 1h8"/>
<rect x="0" y="311" width="1650" height="1" fill="#f00"/>
<rect x="1645.500" y="309.5" width="4" height="4" fill="#fff" stroke="#f00"/>
<rect x="0" y="340" width="1650" height="1" fill="#f00"/>
<rect x="1645.500" y="338.5" width="4" height="4" fill="#fff" stroke="#f00"/>
<rect x="0" y="368" width="1650" height="1" fill="#32c832"/>
<rect x="0" y="380" width="1650" height="1" fill="#c0c0c0"/>
<rect x="0" y="404" width="1650" height="1" fill="#00f"/>
<rect x="1645.500" y="402.5" width="4" height="4" fill="#fff" stroke="#00f"/>
<rect x="0" y="428" width="1650" height="1" fill="#00f"/>
<rect x="1645.500" y="426.5" width="4" height="4" fill="#fff" stroke="#00f"/>
<rect x="178.0" y="45.5" width="60" height="18" fill="#fff" stroke="#f00"/>
<text class="lb" x="180.0" y="60.5" shape-rendering="auto">29362.1</text>
<path d="M237.5 54.5H248.0" stroke="#f00" fill="none"/>
<rect x="912.5" y="346.5" width="61" height="18" fill="#fff" stroke="#f00"/>
<text class="lb" x="914.5" y="361.5" shape-rendering="auto">27394.0</text>
<path d="M973.0 355.5H984.0" stroke="#f00" fill="none"/>
<rect x="1080.5" y="359.5" width="61" height="18" fill="#fff" stroke="#f00"/>
<text class="lb" x="1082.5" y="374.5" shape-rendering="auto">27310.6</text>
<path d="M1141.0 368.5H1152.0" stroke="#f00" fill="none"/>
<rect x="1144.5" y="322.5" width="61" height="18" fill="#fff" stroke="#f00"/>
<text class="lb" x="1146.5" y="337.5" shape-rendering="auto">27551.9</text>
<path d="M1205.0 331.5H1216.0" stroke="#f00" fill="none"/>
<rect x="952.5" y="560.5" width="61" height="18" fill="#fff" stroke="#f00"/>
<text class="lb" x="954.5" y="575.5" shape-rendering="auto">26006.3</text>
<path d="M1013.0 568.5H1024.0" stroke="#f00" fill="none"/>
<rect x="-1" y="110" width="1" height="11" fill="#000"/>
<rect x="-2.5" y="113.5" width="4" height="5" fill="#fff" stroke="#000"/>
<rect x="7" y="106" width="1" height="52" fill="#000"/>
<rect x="5" y="115" width="5" height="19" fill="#000"/>
<rect x="15" y="126" width="1" height="16" fill="#000"/>
<rect x="13" y="133" width="5" height="1" fill="#000"/>
<rect x="23" y="132" width="1" height="18" fill="#000"/>
<rect x="21" y="132" width="5" height="12" fill="#000"/>
<rect x="31" y="138" width="1" height="21" fill="#000"/>
<rect x="29.5" y="140.5" width="4" height="4" fill="#fff" stroke="#000"/>
<rect x="39" y="132" width="1" height="9" fill="#000"/>
<rect x="37.5" y="135.5" width="4" height="5" fill="#fff" stroke="#000"/>
<rect x="47" y="138" width="1" height="10" fill="#000"/>
<rect x="45" y="143" width="5" height="5" fill="#000"/>
<rect x="55" y="128" width="1" height="52" fill="#000"/>
<rect x="53.5" y="146.5" width="4" height="2" fill="#fff" stroke="#000"/>
<rect x="63" y="120" width="1" height="26" fill="#000"/>
<rect x="61.5" y="128.5" width="4" height="17" fill="#fff" stroke="#000"/>
<rect x="71" y="122" width="1" height="9" fill="#000"/>
<rect x="69.5" y="126.5" width="4" height="2" fill="#fff" stroke="#000"/>
<rect x="79" y="120" width="1" height="8" fill="#000"/>
<rect x="77.5" y="122.5" width="4" height="4" fill="#fff" stroke="#000"/>
<rect x="87" y="121" width="1" height="18" fill="#000"/>
<rect x="85" y="122" width="5" height="16" fill="#000"/>
<rect x="95" y="137" width="1" height="10" fill="#000"/>
<rect x="93" y="138" width="5" height="5" fill="#000"/>
<rect x="103" y="139" width="1" height="18" fill="#000"/>
<rect x="101" y="143" width="5" height="7" fill="#000"/>
<rect x="111" y="140" width="1" height="14" fill="#000"/>
<rect x="109.5" y="146.5" width="4" height="4" fill="#fff" stroke="#000"/>
<rect x="119" y="133" width="1" height="19" fill="#000"/>
<rect x="117.5" y="137.5" width="4" height="9" fill="#fff" stroke="#000"/>
<rect x="127" y="118" width="1" height="28" fill="#000"/>
<rect x="125.5" y="122.5" width="4" height="16" fill="#fff" stroke="#000"/>
<rect x="135" y="114" width="1" height="10" fill="#000"/>
<rect x="133.5" y="117.5" width="4" height="4" fill="#fff" stroke="#000"/>
<rect x="143" y="107" width="1" height="20" fill="#000"/>
<rect x="141" y="109" width="5" height="14" fill="#000"/>
<rect x="151" y="106" width="1" height="18" fill="#000"/>
<rect x="149" y="119" width="5" height="1" fill="#000"/>
<rect x="159" y="110" width="1" height="24" fill="#000"/>
<rect x="157.5" y="115.5" width="4" height="4" fill="#fff" stroke="#000"/>
<rect x="167" y="112" width="1" height="29" fill="#000"/>
<rect x="165" y="115" width="5" height="20" fill="#000"/>
<rect x="175" y="113" width="1" height="24" fill="#000"/>
<rect x="173.5" y="128.5" width="4" height="7" fill="#fff" stroke="#000"/>
<rect x="183" y="117" width="1" height="20" fill="#000"/>
<rect x="181" y="127" width="5" height="8" fill="#000"/>
<rect x="191" y="90" width="1" height="31" fill="#000"/>
<rect x="189.5" y="95.5" width="4" height="20" fill="#fff" stroke="#000"/>
<rect x="199" y="70" width="1" height="53" fill="#000"/>
<rect x="197.5" y="75.5" width="4" height="20" fill="#fff" stroke="#000"/>
<rect x="207" y="56" width="1" height="25" fill="#000"/>
<rect x="205.5" y="60.5" width="4" height="16" fill="#fff" stroke="#000"/>
<rect x="215" y="58" width="1" height="17" fill="#000"/>
<rect x="213.5" y="58.5" width="4" height="16" fill="#fff" stroke="#000"/>
<rect x="223" y="57" width="1" height="26" fill="#000"/>
<rect x="221" y="57" width="5" height="25" fill="#000"/>
<rect x="231" y="69" width="1" height="16" fill="#000"/>
<rect x="229.5" y="71.5" width="4" height="8" fill="#fff" stroke="#000"/>
<rect x="239" y="71" width="1" height="12" fill="#000"/>
<rect x="237" y="72" width="5" height="2" fill="#000"/>
<rect x="247" y="54" width="1" height="31" fill="#000"/>
<rect x="245.5" y="65.5" width="4" height="6" fill="#fff" stroke="#000"/>
<rect x="255" y="60" width="1" height="14" fill="#000"/>
<rect x="253" y="65" width="5" height="6" fill="#000"/>
<rect x="263" y="65" width="1" height="10" fill="#000"/>
<rect x="261.5" y="67.5" width="4" height="2" fill="#fff" stroke="#000"/>
<rect x="271" y="58" width="1" height="16" fill="#000"/>
<rect x="269" y="67" width="5" height="1" fill="#000"/>
<rect x="279" y="64" width="1" height="45" fill="#000"/>
<rect x="277" y="66" width="5" height="35" fill="#000"/>
<rect x="287" y="104" width="1" height="15" fill="#000"/>
<rect x="285" y="108" width="5" height="1" fill="#000"/>
<rect x="295" y="96" width="1" height="88" fill="#000"/>
<rect x="293" y="109" width="5" height="68" fill="#000"/>
<rect x="303" y="149" width="1" height="45" fill="#000"/>
<rect x="301.5" y="155.5" width="4" height="21" fill="#fff" stroke="#000"/>
<rect x="311" y="145" width="1" height="19" fill="#000"/>
<rect x="309" y="155" width="5" height="9" fill="#000"/>
<rect x="319" y="137" width="1" height="43" fill="#000"/>
<rect x="317.5" y="151.5" width="4" height="12" fill="#fff" stroke="#000"/>
<rect x="327" y="142" width="1" height="17" fill="#000"/>
<rect x="325" y="152" width="5" height="4" fill="#000"/>
<rect x="335" y="146" width="1" height="16" fill="#000"/>
<rect x="333" y="153" width="5" height="7" fill="#000"/>
<rect x="343" y="143" width="1" height="81" fill="#000"/>
<rect x="341" y="155" width="5" height="45" fill="#000"/>
<rect x="351" y="189" width="1" height="23" fill="#000"/>
<rect x="349.5" y="195.5" width="4" height="5" fill="#fff" stroke="#000"/>
<rect x="359" y="192" width="1" height="23" fill="#000"/>
<rect x="357" y="193" width="5" height="7" fill="#000"/>
<rect x="367" y="197" width="1" height="42" fill="#000"/>
<rect x="365" y="199" width="5" height="8" fill="#000"/>
<rect x="375" y="197" width="1" height="15" fill="#000"/>
<rect x="373.5" y="202.5" width="4" height="3" fill="#fff" stroke="#000"/>
<rect x="383" y="202" width="1" height="24" fill="#000"/>
<rect x="381.5" y="208.5" width="4" height="16" fill="#fff" stroke="#000"/>
<rect x="391" y="200" width="1" height="22" fill="#000"/>
<rect x="389.5" y="202.5" width="4" height="5" fill="#fff" stroke="#000"/>
<rect x="399" y="178" width="1" height="27" fill="#000"/>
<rect x="397.5" y="193.5" width="4" height="10" fill="#fff" stroke="#000"/>
<rect x="407" y="191" width="1" height="57" fill="#000"/>
<rect x="405" y="192" width="5" height="54" fill="#000"/>
<rect x="415" y="241" width="1" height="46" fill="#000"/>
<rect x="413.5" y="242.5" width="4" height="4" fill="#fff" stroke="#000"/>
<rect x="423" y="234" width="1" height="21" fill="#000"/>
<rect x="421.5" y="240.5" width="4" height="2" fill="#fff" stroke="#000"/>
<rect x="431" y="206" width="1" height="26" fill="#000"/>
<rect x="429.5" y="211.5" width="4" height="17" fill="#fff" stroke="#000"/>
<rect x="439" y="193" width="1" height="63" fill="#000"/>
<rect x="437" y="210" width="5" height="15" fill="#000"/>
<rect x="447" y="216" width="1" height="33" fill="#000"/>
<rect x="445.5" y="220.5" width="4" height="5" fill="#fff" stroke="#000"/>
<rect x="455" y="218" width="1" height="29" fill="#000"/>
<rect x="453" y="218" width="5" height="22" fill="#000"/>
<rect x="463" y="196" width="1" height="48" fill="#000"/>
<rect x="461.5" y="198.5" width="4" height="41" fill="#fff" stroke="#000"/>
<rect x="471" y="194" width="1" height="9" fill="#000"/>
<rect x="469" y="197" width="5" height="2" fill="#000"/>
<rect x="479" y="192" width="1" height="10" fill="#000"/>
<rect x="477.5" y="195.5" width="4" height="2" fill="#fff" stroke="#000"/>
<rect x="487" y="149" width="1" height="47" fill="#000"/>
<rect x="485.5" y="150.5" width="4" height="45" fill="#fff" stroke="#000"/>
<rect x="495" y="143" width="1" height="29" fill="#000"/>
<rect x="493" y="151" width="5" height="11" fill="#000"/>
<rect x="503" y="144" width="1" height="20" fill="#000"/>
<rect x="501.5" y="147.5" width="4" height="14" fill="#fff" stroke="#000"/>
<rect x="511" y="143" width="1" height="26" fill="#000"/>
<rect x="509" y="148" width="5" height="19" fill="#000"/>
<rect x="519" y="163" width="1" height="10" fill="#000"/>
<rect x="517.5" y="163.5" width="4" height="4" fill="#fff" stroke="#000"/>
<rect x="527" y="162" width="1" height="11" fill="#000"/>
<rect x="525" y="164" width="5" height="6" fill="#000"/>
<rect x="535" y="166" width="1" height="29" fill="#000"/>
<rect x="533" y="168" width="5" height="23" fill="#000"/>
<rect x="543" y="172" width="1" height="26" fill="#000"/>
<rect x="541.5" y="176.5" width="4" height="15" fill="#fff" stroke="#000"/>
<rect x="551" y="166" width="1" height="16" fill="#000"/>
<rect x="549.5" y="169.5" width="4" height="6" fill="#fff" stroke="#000"/>
<rect x="559" y="162" width="1" height="43" fill="#000"/>
<rect x="557" y="168" width="5" height="31" fill="#000"/>
<rect x="567" y="193" width="1" height="30" fill="#000"/>
<rect x="565" y="197" width="5" height="24" fill="#000"/>
<rect x="575" y="215" width="1" height="17" fill="#000"/>
<rect x="573" y="223" width="5" height="1" fill="#000"/>
<rect x="583" y="223" width="1" height="64" fill="#000"/>
<rect x="581" y="232" width="5" height="33" fill="#000"/>
<rect x="591" y="224" width="1" height="42" fill="#000"/>
<rect x="589.5" y="226.5" width="4" height="38" fill="#fff" stroke="#000"/>
<rect x="599" y="221" width="1" height="42" fill="#000"/>
<rect x="597" y="225" width="5" height="12" fill="#000"/>
<rect x="607" y="231" width="1" height="22" fill="#000"/>
<rect x="605.5" y="234.5" width="4" height="2" fill="#fff" stroke="#000"/>
<rect x="615" y="224" width="1" height="14" fill="#000"/>
<rect x="613.5" y="227.5" width="4" height="7" fill="#fff" stroke="#000"/>
<rect x="623" y="206" width="1" height="14" fill="#000"/>
<rect x="621.5" y="216.5" width="4" height="3" fill="#fff" stroke="#000"/>
<rect x="631" y="197" width="1" height="29" fill="#000"/>
<rect x="629.5" y="213.5" width="4" height="2" fill="#fff" stroke="#000"/>
<rect x="639" y="205" width="1" height="15" fill="#000"/>
<rect x="637.5" y="207.5" width="4" height="5" fill="#fff" stroke="#000"/>
<rect x="647" y="203" width="1" height="6" fill="#000"/>
<rect x="645.5" y="206.5" width="4" height="2" fill="#fff" stroke="#000"/>
<rect x="655" y="202" width="1" height="6" fill="#000"/>
<rect x="653" y="205" width="5" height="2" fill="#000"/>
<rect x="663" y="203" width="1" height="5" fill="#000"/>
<rect x="661" y="205" width="5" height="1" fill="#000"/>
<rect x="671" y="196" width="1" height="13" fill="#000"/>
<rect x="669.5" y="197.5" width="4" height="11" fill="#fff" stroke="#000"/>
<rect x="679" y="153" width="1" height="54" fill="#000"/>
<rect x="677.5" y="195.5" width="4" height="2" fill="#fff" stroke="#000"/>
<rect x="687" y="189" width="1" height="78" fill="#000"/>
<rect x="685" y="194" width="5" height="62" fill="#000"/>
<rect x="695" y="248" width="1" height="20" fill="#000"/>
<rect x="693" y="255" width="5" height="7" fill="#000"/>
<rect x="703" y="245" width="1" height="30" fill="#000"/>
<rect x="701" y="262" width="5" height="4" fill="#000"/>
<rect x="711" y="248" width="1" height="21" fill="#000"/>
<rect x="709" y="264" width="5" height="3" fill="#000"/>
<rect x="719" y="269" width="1" height="28" fill="#000"/>
<rect x="717" y="270" width="5" height="27" fill="#000"/>
<rect x="727" y="286" width="1" height="50" fill="#000"/>
<rect x="725" y="295" width="5" height="35" fill="#000"/>
<rect x="735" y="299" width="1" height="75" fill="#000"/>
<rect x="733.5" y="305.5" width="4" height="24" fill="#fff" stroke="#000"/>
<rect x="743" y="285" width="1" height="20" fill="#000"/>
<rect x="741.5" y="288.5" width="4" height="16" fill="#fff" stroke="#000"/>
<rect x="751" y="286" width="1" height="41" fill="#000"/>
<rect x="749" y="287" width="5" height="18" fill="#000"/>
<rect x="759" y="302" width="1" height="21" fill="#000"/>
<rect x="757" y="304" width="5" height="16" fill="#000"/>
<rect x="767" y="330" width="1" height="35" fill="#000"/>
<rect x="765" y="336" width="5" height="29" fill="#000"/>
<rect x="775" y="305" width="1" height="84" fill="#000"/>
<rect x="773.5" y="305.5" width="4" height="52" fill="#fff" stroke="#000"/>
<rect x="783" y="285" width="1" height="41" fill="#000"/>
<rect x="781" y="304" width="5" height="4" fill="#000"/>
<rect x="791" y="290" width="1" height="22" fill="#000"/>
<rect x="789.5" y="291.5" width="4" height="16" fill="#fff" stroke="#000"/>
<rect x="799" y="273" width="1" height="27" fill="#000"/>
<rect x="797.5" y="285.5" width="4" height="6" fill="#fff" stroke="#000"/>
<rect x="807" y="277" width="1" height="55" fill="#000"/>
<rect x="805" y="286" width="5" height="46" fill="#000"/>
<rect x="815" y="359" width="1" height="23" fill="#000"/>
<rect x="813" y="371" width="5" height="7" fill="#000"/>
<rect x="823" y="353" width="1" height="49" fill="#000"/>
<rect x="821" y="371" width="5" height="1" fill="#000"/>
<rect x="831" y="312" width="1" height="62" fill="#000"/>
<rect x="829.5" y="318.5" width="4" height="53" fill="#fff" stroke="#000"/>
<rect x="839" y="316" width="1" height="33" fill="#000"/>
<rect x="837" y="318" width="5" height="27" fill="#000"/>
<rect x="847" y="323" width="1" height="42" fill="#000"/>
<rect x="845" y="345" width="5" height="2" fill="#000"/>
<rect x="855" y="345" width="1" height="30" fill="#000"/>
<rect x="853" y="347" width="5" height="28" fill="#000"/>
<rect x="863" y="361" width="1" height="33" fill="#000"/>
<rect x="861" y="378" width="5" height="7" fill="#000"/>
<rect x="871" y="344" width="1" height="47" fill="#000"/>
<rect x="869.5" y="352.5" width="4" height="33" fill="#fff" stroke="#000"/>
<rect x="879" y="324" width="1" height="64" fill="#000"/>
<rect x="877" y="353" width="5" height="29" fill="#000"/>
<rect x="887" y="365" width="1" height="41" fill="#000"/>
<rect x="885" y="382" width="5" height="22" fill="#000"/>
<rect x="895" y="387" width="1" height="79" fill="#000"/>
<rect x="893" y="402" width="5" height="21" fill="#000"/>
<rect x="903" y="382" width="1" height="74" fill="#000"/>
<rect x="901.5" y="389.5" width="4" height="32" fill="#fff" stroke="#000"/>
<rect x="911" y="352" width="1" height="28" fill="#000"/>
<rect x="909.5" y="352.5" width="4" height="17" fill="#fff" stroke="#000"/>
<rect x="919" y="347" width="1" height="73" fill="#000"/>
<rect x="917" y="350" width="5" height="63" fill="#000"/>
<rect x="927" y="387" width="1" height="52" fill="#000"/>
<rect x="925.5" y="404.5" width="4" height="7" fill="#fff" stroke="#000"/>
<rect x="935" y="396" width="1" height="40" fill="#000"/>
<rect x="933" y="404" width="5" height="32" fill="#000"/>
<rect x="943" y="385" width="1" height="58" fill="#000"/>
<rect x="941.5" y="385.5" width="4" height="50" fill="#fff" stroke="#000"/>
<rect x="951" y="365" width="1" height="37" fill="#000"/>
<rect x="949" y="385" width="5" height="5" fill="#000"/>
<rect x="959" y="387" width="1" height="18" fill="#000"/>
<rect x="957" y="394" width="5" height="10" fill="#000"/>
<rect x="967" y="391" width="1" height="53" fill="#000"/>
<rect x="965" y="401" width="5" height="7" fill="#000"/>
<rect x="975" y="364" width="1" height="59" fill="#000"/>
<rect x="973.5" y="367.5" width="4" height="39" fill="#fff" stroke="#000"/>
<rect x="983" y="355" width="1" height="29" fill="#000"/>
<rect x="981" y="367" width="5" height="4" fill="#000"/>
<rect x="991" y="366" width="1" height="36" fill="#000"/>
<rect x="989" y="370" width="5" height="12" fill="#000"/>
<rect x="999" y="361" width="1" height="92" fill="#000"/>
<rect x="997" y="381" width="5" height="50" fill="#000"/>
<rect x="1007" y="393" width="1" height="24" fill="#000"/>
<rect x="1005.5" y="394.5" width="4" height="22" fill="#fff" stroke="#000"/>
<rect x="1015" y="389" width="1" height="170" fill="#000"/>
<rect x="1013" y="393" width="5" height="139" fill="#000"/>
<rect x="1023" y="469" width="1" height="100" fill="#000"/>
<rect x="1021.5" y="487.5" width="4" height="44" fill="#fff" stroke="#000"/>
<rect x="1031" y="441" width="1" height="55" fill="#000"/>
<rect x="1029.5" y="447.5" width="4" height="41" fill="#fff" stroke="#000"/>
<rect x="1039" y="446" width="1" height="64" fill="#000"/>
<rect x="1037" y="446" width="5" height="50" fill="#000"/>
<rect x="1047" y="471" width="1" height="34" fill="#000"/>
<rect x="1045.5" y="479.5" width="4" height="15" fill="#fff" stroke="#000"/>
<rect x="1055" y="472" width="1" height="18" fill="#000"/>
<rect x="1053" y="473" width="5" height="17" fill="#000"/>
<rect x="1063" y="451" width="1" height="78" fill="#000"/>
<rect x="1061.5" y="468.5" width="4" height="25" fill="#fff" stroke="#000"/>
<rect x="1071" y="456" width="1" height="52" fill="#000"/>
<rect x="1069" y="467" width="5" height="37" fill="#000"/>
<rect x="1079" y="493" width="1" height="45" fill="#000"/>
<rect x="1077" y="503" width="5" height="19" fill="#000"/>
<rect x="1087" y="470" width="1" height="61" fill="#000"/>
<rect x="1085.5" y="483.5" width="4" height="37" fill="#fff" stroke="#000"/>
<rect x="1095" y="479" width="1" height="42" fill="#000"/>
<rect x="1093" y="482" width="5" height="13" fill="#000"/>
<rect x="1103" y="468" width="1" height="15" fill="#000"/>
<rect x="1101" y="470" width="5" height="1" fill="#000"/>
<rect x="1111" y="399" width="1" height="95" fill="#000"/>
<rect x="1109.5" y="401.5" width="4" height="68" fill="#fff" stroke="#000"/>
<rect x="1119" y="401" width="1" height="33" fill="#000"/>
<rect x="1117" y="401" width="5" height="27" fill="#000"/>
<rect x="1127" y="418" width="1" height="29" fill="#000"/>
<rect x="1125.5" y="423.5" width="4" height="5" fill="#fff" stroke="#000"/>
<rect x="1135" y="395" width="1" height="34" fill="#000"/>
<rect x="1133.5" y="401.5" width="4" height="21" fill="#fff" stroke="#000"/>
<rect x="1143" y="379" width="1" height="24" fill="#000"/>
<rect x="1141.5" y="383.5" width="4" height="18" fill="#fff" stroke="#000"/>
<rect x="1151" y="371" width="1" height="10" fill="#000"/>
<rect x="1149" y="374" width="5" height="1" fill="#000"/>
<rect x="1159" y="357" width="1" height="50" fill="#000"/>
<rect x="1157" y="374" width="5" height="31" fill="#000"/>
<rect x="1167" y="388" width="1" height="30" fill="#000"/>
<rect x="1165" y="404" width="5" height="1" fill="#000"/>
<rect x="1175" y="392" width="1" height="17" fill="#000"/>
<rect x="1173" y="404" width="5" height="3" fill="#000"/>
<rect x="1183" y="396" width="1" height="27" fill="#000"/>
<rect x="1181" y="405" width="5" height="2" fill="#000"/>
<rect x="1191" y="395" width="1" height="21" fill="#000"/>
<rect x="1189.5" y="397.5" width="4" height="10" fill="#fff" stroke="#000"/>
<rect x="1199" y="370" width="1" height="17" fill="#000"/>
<rect x="1197.5" y="374.5" width="4" height="9" fill="#fff" stroke="#000"/>
<rect x="1207" y="335" width="1" height="39" fill="#000"/>
<rect x="1205.5" y="344.5" width="4" height="27" fill="#fff" stroke="#000"/>
<rect x="1215" y="331" width="1" height="22" fill="#000"/>
<rect x="1213.5" y="339.5" width="4" height="6" fill="#fff" stroke="#000"/>
<rect x="1223" y="338" width="1" height="23" fill="#000"/>
<rect x="1221" y="340" width="5" height="13" fill="#000"/>
<rect x="1231" y="343" width="1" height="27" fill="#000"/>
<rect x="1229" y="352" width="5" height="5" fill="#000"/>
<rect x="1239" y="344" width="1" height="15" fill="#000"/>
<rect x="1237.5" y="346.5" width="4" height="9" fill="#fff" stroke="#000"/>
<rect x="1247" y="368" width="1" height="21" fill="#000"/>
<rect x="1245" y="371" width="5" height="14" fill="#000"/>
<rect x="1255" y="371" width="1" height="25" fill="#000"/>
<rect x="1253.5" y="382.5" width="4" height="4" fill="#fff" stroke="#000"/>
<rect x="1263" y="375" width="1" height="21" fill="#000"/>
<rect x="1261" y="382" width="5" height="9" fill="#000"/>
<rect x="1271" y="378" width="1" height="27" fill="#000"/>
<rect x="1269" y="391" width="5" height="11" fill="#000"/>
<rect x="1279" y="376" width="1" height="29" fill="#000"/>
<rect x="1277" y="401" width="5" height="4" fill="#000"/>
<rect x="1287" y="396" width="1" height="27" fill="#000"/>
<rect x="1285" y="401" width="5" height="18" fill="#000"/>
<rect x="1295" y="395" width="1" height="10" fill="#000"/>
<rect x="1293" y="397" width="5" height="4" fill="#000"/>
<rect x="1303" y="371" width="1" height="39" fill="#000"/>
<rect x="1301.5" y="378.5" width="4" height="21" fill="#fff" stroke="#000"/>
<rect x="1311" y="351" width="1" height="33" fill="#000"/>
<rect x="1309" y="377" width="5" height="5" fill="#000"/>
<rect x="1319" y="372" width="1" height="26" fill="#000"/>
<rect x="1317" y="381" width="5" height="1" fill="#000"/>
<rect x="1327" y="359" width="1" height="37" fill="#000"/>
<rect x="1325.5" y="361.5" width="4" height="19" fill="#fff" stroke="#000"/>
<rect x="1335" y="353" width="1" height="10" fill="#000"/>
<rect x="1333.5" y="355.5" width="4" height="5" fill="#fff" stroke="#000"/>
<rect x="1343" y="366" width="1" height="17" fill="#000"/>
<rect x="1341" y="374" width="5" height="2" fill="#000"/>
<rect x="1351" y="370" width="1" height="38" fill="#000"/>
<rect x="1349" y="376" width="5" height="15" fill="#000"/>
<rect x="1359" y="368" width="1" height="31" fill="#000"/>
<rect x="1357" y="392" width="5" height="1" fill="#000"/>
<rect x="1367" y="369" width="1" height="29" fill="#000"/>
<rect x="1365.5" y="372.5" width="4" height="20" fill="#fff" stroke="#000"/>
<rect x="1375" y="366" width="1" height="24" fill="#000"/>
<rect x="1373" y="371" width="5" height="8" fill="#000"/>
<rect x="1383" y="364" width="1" height="18" fill="#000"/>
<rect x="1381" y="377" width="5" height="4" fill="#000"/>
<rect x="7" y="610" width="1" height="35" fill="#c0c0c0"/>
<rect x="15" y="614" width="1" height="31" fill="#c0c0c0"/>
<rect x="23" y="620" width="1" height="25" fill="#c0c0c0"/>
<rect x="31" y="625" width="1" height="20" fill="#c0c0c0"/>
<rect x="39" y="627" width="1" height="18" fill="#c0c0c0"/>
<rect x="47" y="631" width="1" height="14" fill="#c0c0c0"/>
<rect x="55" y="635" width="1" height="10" fill="#c0c0c0"/>
<rect x="63" y="633" width="1" height="12" fill="#c0c0c0"/>
<rect x="71" y="633" width="1" height="12" fill="#c0c0c0"/>
<rect x="79" y="632" width="1" height="13" fill="#c0c0c0"/>
<rect x="87" y="633" width="1" height="12" fill="#c0c0c0"/>
<rect x="95" y="637" width="1" height="8" fill="#c0c0c0"/>
<rect x="103" y="641" width="1" height="4" fill="#c0c0c0"/>
<rect x="111" y="643" width="1" height="2" fill="#c0c0c0"/>
<rect x="119" y="643" width="1" height="2" fill="#c0c0c0"/>
<rect x="127" y="640" width="1" height="5" fill="#c0c0c0"/>
<rect x="135" y="637" width="1" height="8" fill="#c0c0c0"/>
<rect x="143" y="635" width="1" height="10" fill="#c0c0c0"/>
<rect x="151" y="633" width="1" height="12" fill="#c0c0c0"/>
<rect x="159" y="632" width="1" height="13" fill="#c0c0c0"/>
<rect x="167" y="634" width="1" height="11" fill="#c0c0c0"/>
<rect x="175" y="635" width="1" height="10" fill="#c0c0c0"/>
<rect x="183" y="637" width="1" height="8" fill="#c0c0c0"/>
<rect x="191" y="633" width="1" height="12" fill="#c0c0c0"/>
<rect x="199" y="623" width="1" height="22" fill="#c0c0c0"/>
<rect x="207" y="616" width="1" height="29" fill="#c0c0c0"/>
<rect x="215" y="607" width="1" height="38" fill="#c0c0c0"/>
<rect x="223" y="605" width="1" height="40" fill="#c0c0c0"/>
<rect x="231" y="603" width="1" height="42" fill="#c0c0c0"/>
<rect x="239" y="602" width="1" height="43" fill="#c0c0c0"/>
<rect x="247" y="599" width="1" height="46" fill="#c0c0c0"/>
<rect x="255" y="599" width="1" height="46" fill="#c0c0c0"/>
<rect x="263" y="599" width="1" height="46" fill="#c0c0c0"/>
<rect x="271" y="599" width="1" height="46" fill="#c0c0c0"/>
<rect x="279" y="607" width="1" height="38" fill="#c0c0c0"/>
<rect x="287" y="615" width="1" height="30" fill="#c0c0c0"/>
<rect x="295" y="636" width="1" height="9" fill="#c0c0c0"/>
<rect x="303" y="644" width="1" height="4" fill="#c0c0c0"/>
<rect x="311" y="644" width="1" height="15" fill="#c0c0c0"/>
<rect x="319" y="644" width="1" height="20" fill="#c0c0c0"/>
<rect x="327" y="644" width="1" height="25" fill="#c0c0c0"/>
<rect x="335" y="644" width="1" height="31" fill="#c0c0c0"/>
<rect x="343" y="644" width="1" height="42" fill="#c0c0c0"/>
<rect x="351" y="644" width="1" height="50" fill="#c0c0c0"/>
<rect x="359" y="644" width="1" height="56" fill="#c0c0c0"/>
<rect x="367" y="644" width="1" height="62" fill="#c0c0c0"/>
<rect x="375" y="644" width="1" height="65" fill="#c0c0c0"/>
<rect x="383" y="644" width="1" height="68" fill="#c0c0c0"/>
<rect x="391" y="644" width="1" height="68" fill="#c0c0c0"/>
<rect x="399" y="644" width="1" height="66" fill="#c0c0c0"/>
<rect x="407" y="644" width="1" height="74" fill="#c0c0c0"/>
<rect x="415" y="644" width="1" height="79" fill="#c0c0c0"/>
<rect x="423" y="644" width="1" height="81" fill="#c0c0c0"/>
<rect x="431" y="644" width="1" height="77" fill="#c0c0c0"/>
<rect x="439" y="644" width="1" height="74" fill="#c0c0c0"/>
<rect x="447" y="644" width="1" height="74" fill="#c0c0c0"/>
<rect x="455" y="644" width="1" height="72" fill="#c0c0c0"/>
<rect x="463" y="644" width="1" height="63" fill="#c0c0c0"/>
<rect x="471" y="644" width="1" height="56" fill="#c0c0c0"/>
<rect x="479" y="644" width="1" height="48" fill="#c0c0c0"/>
<rect x="487" y="644" width="1" height="33" fill="#c0c0c0"/>
<rect x="495" y="644" width="1" height="23" fill="#c0c0c0"/>
<rect x="503" y="644" width="1" height="11" fill="#c0c0c0"/>
<rect x="511" y="644" width="1" height="6" fill="#c0c0c0"/>
<rect x="519" y="644" width="1" height="2" fill="#c0c0c0"/>
<rect x="527" y="644" width="1" height="1" fill="#c0c0c0"/>
<rect x="535" y="644" width="1" height="1" fill="#c0c0c0"/>
<rect x="543" y="644" width="1" height="1" fill="#c0c0c0"/>
<rect x="551" y="644" width="1" height="1" fill="#c0c0c0"/>
<rect x="559" y="643" width="1" height="2" fill="#c0c0c0"/>
<rect x="567" y="644" width="1" height="10" fill="#c0c0c0"/>
<rect x="575" y="644" width="1" height="18" fill="#c0c0c0"/>
<rect x="583" y="644" width="1" height="31" fill="#c0c0c0"/>
<rect x="591" y="644" width="1" height="34" fill="#c0c0c0"/>
<rect x="599" y="644" width="1" height="38" fill="#c0c0c0"/>
<rect x="607" y="644" width="1" height="40" fill="#c0c0c0"/>
<rect x="615" y="644" width="1" height="39" fill="#c0c0c0"/>
<rect x="623" y="644" width="1" height="35" fill="#c0c0c0"/>
<rect x="631" y="644" width="1" height="31" fill="#c0c0c0"/>
<rect x="639" y="644" width="1" height="29" fill="#c0c0c0"/>
<rect x="647" y="644" width="1" height="25" fill="#c0c0c0"/>
<rect x="655" y="644" width="1" height="21" fill="#c0c0c0"/>
<rect x="663" y="644" width="1" height="18" fill="#c0c0c0"/>
<rect x="671" y="644" width="1" height="14" fill="#c0c0c0"/>
<rect x="679" y="644" width="1" height="10" fill="#c0c0c0"/>
<rect x="687" y="644" width="1" height="20" fill="#c0c0c0"/>
<rect x="695" y="644" width="1" height="28" fill="#c0c0c0"/>
<rect x="703" y="644" width="1" height="35" fill="#c0c0c0"/>
<rect x="711" y="644" width="1" height="40" fill="#c0c0c0"/>
<rect x="719" y="644" width="1" height="50" fill="#c0c0c0"/>
<rect x="727" y="644" width="1" height="64" fill="#c0c0c0"/>
<rect x="735" y="644" width="1" height="69" fill="#c0c0c0"/>
<rect x="743" y="644" width="1" height="69" fill="#c0c0c0"/>
<rect x="751" y="644" width="1" height="71" fill="#c0c0c0"/>
<rect x="759" y="644" width="1" height="75" fill="#c0c0c0"/>
<rect x="767" y="644" width="1" height="88" fill="#c0c0c0"/>
<rect x="775" y="644" width="1" height="84" fill="#c0c0c0"/>
<rect x="783" y="644" width="1" height="80" fill="#c0c0c0"/>
<rect x="791" y="644" width="1" height="74" fill="#c0c0c0"/>
<rect x="799" y="644" width="1" height="65" fill="#c0c0c0"/>
<rect x="807" y="644" width="1" height="69" fill="#c0c0c0"/>
<rect x="815" y="644" width="1" height="80" fill="#c0c0c0"/>
<rect x="823" y="644" width="1" height="86" fill="#c0c0c0"/>
<rect x="831" y="644" width="1" height="80" fill="#c0c0c0"/>
<rect x="839" y="644" width="1" height="77" fill="#c0c0c0"/>
<rect x="847" y="644" width="1" height="77" fill="#c0c0c0"/>
<rect x="855" y="644" width="1" height="80" fill="#c0c0c0"/>
<rect x="863" y="644" width="1" height="85" fill="#c0c0c0"/>
<rect x="871" y="644" width="1" height="82" fill="#c0c0c0"/>
<rect x="879" y="644" width="1" height="83" fill="#c0c0c0"/>
<rect x="887" y="644" width="1" height="88" fill="#c0c0c0"/>
<rect x="895" y="644" width="1" height="95" fill="#c0c0c0"/>
<rect x="903" y="644" width="1" height="92" fill="#c0c0c0"/>
<rect x="911" y="644" width="1" height="82" fill="#c0c0c0"/>
<rect x="919" y="644" width="1" height="86" fill="#c0c0c0"/>
<rect x="927" y="644" width="1" height="87" fill="#c0c0c0"/>
<rect x="935" y="644" width="1" height="90" fill="#c0c0c0"/>
<rect x="943" y="644" width="1" height="83" fill="#c0c0c0"/>
<rect x="951" y="644" width="1" height="76" fill="#c0c0c0"/>
<rect x="959" y="644" width="1" height="75" fill="#c0c0c0"/>
<rect x="967" y="644" width="1" height="73" fill="#c0c0c0"/>
<rect x="975" y="644" width="1" height="62" fill="#c0c0c0"/>
<rect x="983" y="644" width="1" height="54" fill="#c0c0c0"/>
<rect x="991" y="644" width="1" height="49" fill="#c0c0c0"/>
<rect x="999" y="644" width="1" height="55" fill="#c0c0c0"/>
<rect x="1007" y="644" width="1" height="52" fill="#c0c0c0"/>
<rect x="1015" y="644" width="1" height="75" fill="#c0c0c0"/>
<rect x="1023" y="644" width="1" height="86" fill="#c0c0c0"/>
<rect x="1031" y="644" width="1" height="84" fill="#c0c0c0"/>
<rect x="1039" y="644" width="1" height="92" fill="#c0c0c0"/>
<rect x="1047" y="644" width="1" height="94" fill="#c0c0c0"/>
<rect x="1055" y="644" width="1" height="96" fill="#c0c0c0"/>
<rect x="1063" y="644" width="1" height="92" fill="#c0c0c0"/>
<rect x="1071" y="644" width="1" height="96" fill="#c0c0c0"/>
<rect x="1079" y="644" width="1" height="101" fill="#c0c0c0"/>
<rect x="1087" y="644" width="1" height="95" fill="#c0c0c0"/>
<rect x="1095" y="644" width="1" height="94" fill="#c0c0c0"/>
<rect x="1103" y="644" width="1" height="85" fill="#c0c0c0"/>
<rect x="1111" y="644" width="1" height="64" fill="#c0c0c0"/>
<rect x="1119" y="644" width="1" height="52" fill="#c0c0c0"/>
<rect x="1127" y="644" width="1" height="41" fill="#c0c0c0"/>
<rect x="1135" y="644" width="1" height="27" fill="#c0c0c0"/>
<rect x="1143" y="644" width="1" height="13" fill="#c0c0c0"/>
<rect x="1151" y="643" width="1" height="2" fill="#c0c0c0"/>
<rect x="1159" y="639" width="1" height="6" fill="#c0c0c0"/>
<rect x="1167" y="636" width="1" height="9" fill="#c0c0c0"/>
<rect x="1175" y="633" width="1" height="12" fill="#c0c0c0"/>
<rect x="1183" y="632" width="1" height="13" fill="#c0c0c0"/>
<rect x="1191" y="629" width="1" height="16" fill="#c0c0c0"/>
<rect x="1199" y="622" width="1" height="23" fill="#c0c0c0"/>
<rect x="1207" y="611" width="1" height="34" fill="#c0c0c0"/>
<rect x="1215" y="601" width="1" height="44" fill="#c0c0c0"/>
<rect x="1223" y="597" width="1" height="48" fill="#c0c0c0"/>
<rect x="1231" y="595" width="1" height="50" fill="#c0c0c0"/>
<rect x="1239" y="592" width="1" height="53" fill="#c0c0c0"/>
<rect x="1247" y="597" width="1" height="48" fill="#c0c0c0"/>
<rect x="1255" y="604" width="1" height="41" fill="#c0c0c0"/>
<rect x="1263" y="609" width="1" height="36" fill="#c0c0c0"/>
<rect x="1271" y="616" width="1" height="29" fill="#c0c0c0"/>
<rect x="1279" y="622" width="1" height="23" fill="#c0c0c0"/>
<rect x="1287" y="631" width="1" height="14" fill="#c0c0c0"/>
<rect x="1295" y="634" width="1" height="11" fill="#c0c0c0"/>
<rect x="1303" y="632" width="1" height="13" fill="#c0c0c0"/>
<rect x="1311" y="632" width="1" height="13" fill="#c0c0c0"/>
<rect x="1319" y="631" width="1" height="14" fill="#c0c0c0"/>
<rect x="1327" y="627" width="1" height="18" fill="#c0c0c0"/>
<rect x="1335" y="622" width="1" height="23" fill="#c0c0c0"/>
<rect x="1343" y="625" width="1" height="20" fill="#c0c0c0"/>
<rect x="1351" y="628" width="1" height="17" fill="#c0c0c0"/>
<rect x="1359" y="630" width="1" height="15" fill="#c0c0c0"/>
<rect x="1367" y="629" width="1" height="16" fill="#c0c0c0"/>
<rect x="1375" y="630" width="1" height="15" fill="#c0c0c0"/>
<rect x="1383" y="631" width="1" height="14" fill="#c0c0c0"/>
<path fill="none" stroke="#f00" stroke-width="1" d="M282 601.5h3m-13 1h1m3 0h3m9 0h1m978 0h1m3 0h2m-1003 1h2m17 0h2m970 0h1m3 0h2m6 0h1m3 0h1m-19 1h2m17 0h2m-1016 1h3m27 0h2m958 0h2m27 0h2m-1285 1h3m293 0h1m956 0h1m31 0h1m-1280 1h3m3 0h3m245 0h1m1028 0h3m-1274 1h3m237 0h2m40 0h1m947 0h2m-1226 1h3m274 0h2m944 0h1m47 0h1m-1266 1h1m223 0h1m1041 0h2m-1267 1h2m219 0h2m988 0h2m-1208 1h2m1203 0h1m59 0h1m-1264 1h1m209 0h1m57 0h2m994 0h2m-1262 1h2m202 0h2m60 0h1m927 0h2m-1194 1h1m1190 0h1m-1188 1h1m193 0h1m1064 0h2m-1260 1h2m189 0h2m989 0h1m77 0h1m-1256 1h1m257 0h1m916 0h2m-1176 1h2m177 0h3m76 0h2m998 0h1m-1254 1h1m1164 0h1m88 0h1m-1254 1h2m166 0h2m992 0h2m90 0h1m-1088 1h1m-163 1h3m155 0h1m93 0h1m-97 1h2m95 0h1m899 0h1m-1148 1h3m245 0h1m896 0h2m-1141 1h1m137 0h3m-140 1h2m3 1h1m126 0h2m1000 0h1m-1129 1h2m123 0h1m113 0h2m886 0h1m-1123 1h2m113 0h2m119 0h1m884 0h1m-1120 1h1m111 0h1m-109 1h3m99 0h3m-99 1h2m89 0h2m1012 0h1m-1104 1h1m83 0h1m3 0h1m137 0h1m874 0h2m-1099 1h3m75 0h2m143 0h1m-218 1h3m3 0h3m51 0h3m3 0h3m149 0h1m-207 1h3m3 0h3m3 0h3m3 0h3m3 0h3m3 0h3m3 0h3m3 0h3m1030 0h1m-2 1h1m-2 1h1m-863.5 0.5v2m0.5 0.5h1m857 1h1m-2 1h1m-2 1h1m-853 1h1m0 1h1m0 1h1m216 0h1m3 0h3m3 0h3m3 0h3m-21 1h2m629 0h1m-608 1h2m604 0h1m-635 1h1m29 0h1m602 0h1m-842 1h1m205 0h2m34 0h1m-242 1h1m241 0h2m-243 1h1m199 0h1m-3 1h2m46 0h1m588 0h1m-589 1h1m586 0h1m-587 1h1m584 0h1m-831 1h1m190 0h1m-190.5 0.5v2m188.5 -1.5h1m58 0h1m-61 1h1m60 0h2m574 1h1m-572 1h1m569.5 -0.5v2m-640.5 -0.5h1m70 0h2m-254 1h1m179 0h1m-180 1h1m177 0h1m77 0h1m-256 1h1m255 0h2m81 0h3m3 0h3m-19 1h1m3 0h3m15 0h3m3 0h1m457 0h1m-643 1h1m87 0h1m60 0h2m3 0h2m29 0h2m454 0h1m-643 1h1m89 0h2m57 0h1m491 0h1m-811 1h1m167 0h1m145 0h1m45 0h2m-361 1h1m262 0h1m47 0h2m48 0h1m-361 1h1m262 0h2m40 1h2m57 0h2m439 0h1m-644 1h1m105 0h1m35 0h1m61 0h1m437 0h1m-644 1h1m107 0h2m27 0h3m502 0h1m-800 1h2m154 0h1m113 0h3m15 0h3m-289 1h1m273 0h3m3 0h3m81 0h1m0 1h2m427 1h1m-645 1h1m642 0h1m-790 1h1m143 0h2m220 0h1m421 0h1m-788 1h1m365 0h1m-366 1h1m365 0h1m-229 2h1m644 0h1m-780 1h1m132 0h1m644.5 -0.5v2m-777.5 -0.5h2m129 0h1m233 0h1m0 1h1m0 1h1m-363 1h1m0 1h1m120 0h1m646 0h1m-768 1h1m118 0h1m244 0h1m401 0h1m-649 1h1m246 0h1m399 0h1m-400 1h1m-363 1h1m0 1h2m107 1h1m255 0h1m392 0h1m-754 1h1m101 0h2m257 0h1m390 0h1m-752 1h2m359 0h1m388 0h1m-746 3h2m90 0h1m267 0h1m-359 1h1m88 0h1m269 0h1m381 0h1m-654 1h1m271 0h1m379 0h1m-737 1h2m733 0h1m-734 1h1m77 1h1m279 0h2m244 0h3m3 0h3m-609 1h3m69 0h2m282 0h1m237 0h3m15 0h3m-25 1h1m27 0h3m106 0h1m-722 1h2m60 0h1m519 0h2m34 0h1m101 0h1m-719 1h1m57 0h2m292 0h1m264 0h2m98 0h1m-714 1h1m348 0h2m220 0h2m-572 1h2m47 0h1m519 0h1m47 0h1m-613 1h1m41 0h2m304 0h1m264 0h2m-614 1h2m3 0h1m30 0h2m310 0h2m208 0h2m143 0h1m-698 1h2m3 0h1m23 0h1m317 0h1m203 0h1m59 0h1m83 0h2m-691 1h2m3 0h3m3 0h3m3 0h3m322 0h2m262 0h2m-261 1h3m3 0h3m3 0h3m3 0h3m172 0h2m-171 1h3m28 0h2m3 0h1m131 0h1m-145 1h3m3 0h1m6 0h2m201 0h2m72 0h1m-309 1h3m9 0h3m21 0h3m118 0h2m77 0h1m70 0h1m-302 1h3m33 0h3m111 0h1m149 0h1m-259 1h3m100 0h2m87 0h1m-187 1h3m93 0h1m90 0h1m-182 1h3m3 0h2m78 0h1m95 0h1m59 0h1m-235 1h1m3 0h3m69 0h2m155 0h1m-224 1h3m59 0h1m105 0h1m53 0h1m-217 1h3m46 0h2m3 0h2m107 0h2m-159 1h3m3 0h3m3 0h2m17 0h2m3 0h3m3 0h1m163 0h1m-193 1h1m3 0h3m3 0h3m3 0h1m131 0h1m41 0h2m-43 1h1m0 1h1m34 1h2m-33 1h3m27 0h1m-25 1h1m19 0h1m-20 1h2m15 0h2m-14 1h3m3 0h3"/>
<path d="M0 790.5H1650" stroke="#c0c0c0" stroke-dasharray="3 3"/>
<path d="M0 841.5H1650" stroke="#c0c0c0" stroke-dasharray="3 3"/>
<path d="M0 902.5H1650" stroke="#c0c0c0" stroke-dasharray="3 3"/>
<path fill="none" stroke="#1E90FF" stroke-width="1" d="M215 806.5h1m-3 1h2m1.5 -0.5v2m-5.5 -0.5h2m-4 1h2m6.5 -0.5v2m-11.5 -0.5h3m-7 1h4m12.5 -0.5v2m-19.5 -0.5h3m-3.5 0.5v2m21 -2v2m-22 0v2m23 -2v2m26.5 -1.5h1m-3 1h2m1 0h2m-54 1h1m24.5 -0.5v2m9.5 -1.5h3m9 0h2m5 0h2m-56.5 0.5v2m33.5 -1.5h2m3 0h4m3 0h2m9 0h1m9 0h10m-49.5 0.5v2m4.5 -1.5h2m9 0h3m12 0h2m3 0h4m9 0h1m-78 1h1m30 0h2m28 0h3m14.5 -0.5v3m939.5 -2.5h4m-1022.5 0.5v2m29.5 -1.5h2m982 0h5m4 0h2m-12 1h1m11 0h2m-1220.5 0.5v2m193 -2v2m81 -2v3m931.5 -2.5h1m14 0h1m-17 1h1m16 0h2m15 0h2m-1239.5 0.5v2m134.5 -1.5h1m55.5 -0.5v2m1012 -2v2m19.5 -1.5h5m6 0h4m2.5 -0.5v2m-1107.5 -0.5h2m1 0h2m20 0h2m114.5 -0.5v3m953.5 -2.5h6m-1232.5 0.5v2m129.5 -1.5h2m5 0h1m17 0h2m1 0h1m30.5 -0.5v2m297 -2v2m15.5 -1.5h1m698 0h1m38.5 -0.5v2m92.5 -1.5h2m-1207 1h2m8 0h1m13 0h3m4.5 -0.5v2m327.5 -1.5h2m11 0h2m1 0h1m696 0h1m128 0h4m2 0h1m-1334.5 0.5v2m75.5 -1.5h2m47 0h2m11 0h2m8 0h3m36.5 -0.5v2m86 -2v3m211 -3v2m3.5 -1.5h2m8 0h1m4 0h1m644 0h2m48 0h1m41.5 -0.5v2m84.5 -1.5h3m7 0h1m-1264 1h4m2.5 -0.5v2m46 -2v2m15.5 -1.5h1m3 0h4m11.5 -0.5v2m330.5 -1.5h1m5 0h2m6 0h1m639 0h4m2 0h1m46 0h1m126 0h1m11 0h1m-1335.5 0.5v2m64.5 -1.5h6m69 0h3m42.5 -0.5v2m297 -2v2m7.5 -1.5h2m1 0h2m9.5 -0.5v2m634.5 -1.5h4m7 0h1m44 0h1m44 0h1m80 0h2m13.5 -0.5v2m-1276.5 -0.5h5m13.5 -0.5v2m43.5 -1.5h1m36.5 -0.5v2m114 -2v3m218.5 -2.5h1m644 0h2m12 0h1m41 0h2m46.5 -0.5v2m78.5 -1.5h1m-1319.5 0.5v2m58 -2v2m62 -2v2m63 -2v3m297 -3v2m23.5 -1.5h1m628 0h3m15 0h1m39 0h1m126 0h1m17 0h1m-1259 1h1m80.5 -0.5v2m345.5 -1.5h1m601 0h1m23 0h2m19 0h1m37 0h1m50.5 -0.5v2m74.5 -1.5h2m19 0h1m-1336.5 0.5v2m56 -2v2m22 -2v2m39.5 -1.5h1m153.5 -0.5v3m206 -3v2m26.5 -1.5h1m5 0h6m588.5 -0.5v2m1.5 -1.5h2m19 0h2m22 0h1m34 0h2m122 0h4m22 0h1m-1220.5 0.5v2m42 -2v2m22 -2v2m324.5 -1.5h5m6 0h4m152 0h2m434 0h1m17 0h1m25 0h1m29 0h4m54.5 -0.5v2m56.5 -1.5h13m27 0h1m28 0h5m-1370.5 0.5v2m7.5 -1.5h2m44.5 -0.5v2m23.5 -1.5h1m397.5 -0.5v2m43.5 -1.5h2m23 0h1m122 0h4m1 0h1m429.5 -0.5v2m5.5 -1.5h1m14 0h2m27 0h29m64 0h5m45 0h1m41 0h1m22 0h5m5 0h3m-1370 1h4m2 0h1m22 0h1m45.5 -0.5v2m35.5 -1.5h1m43.5 -0.5v2m9.5 -1.5h1m9.5 -0.5v2m93 -2v3m249.5 -2.5h1m20 0h2m1.5 -0.5v2m118.5 -1.5h3m6.5 -0.5v4m435.5 -3.5h2m10 0h2m117 0h5m5 0h3m41 0h1m43 0h1m20 0h1m13 0h2m-1375 1h3m7 0h1m19 0h2m1 0h1m18.5 -0.5v2m61 -2v2m52.5 -1.5h2m1 0h2m303.5 -0.5v2m47.5 -1.5h1m17 0h2m120 0h2m437.5 -0.5v2m9.5 -1.5h1m5 0h4m132 0h2m38 0h1m45 0h2m17 0h1m16 0h2m-1366 1h1m16 0h2m4 0h1m44.5 -0.5v2m80 -2v2m5.5 -1.5h1m5 0h2m4.5 -0.5v2m345.5 -1.5h1m14 0h2m6 0h1m113 0h2m450 0h5m138 0h3m33 0h2m48 0h1m15 0h1m-1345.5 0.5v2m13.5 -1.5h2m7 0h1m15.5 -0.5v2m60.5 -1.5h1m50 0h2m8 0h1m98.5 -0.5v2m201 -2v2m51 -2v2m11.5 -1.5h2m9.5 -0.5v2m110.5 -1.5h2m440 0h1m157 0h2m30 0h1m51 0h1m13 0h1m-1333 1h2m10.5 -0.5v2m43.5 -1.5h1m30 0h1m48 0h3m11 0h3m357 0h2m109 0h13m16.5 -0.5v3m425 -3v2m160.5 -1.5h2m27 0h1m53 0h1m11 0h1m-1343 1h1m8 0h2m26.5 -0.5v2m30.5 -1.5h2m26 0h2m49 0h1m15 0h1m96 0h2m197.5 -0.5v2m52.5 -1.5h1m7 0h1m14 0h1m82 0h14m328 0h5m284 0h2m24 0h1m55 0h3m7 0h1m-1341 1h1m5 0h2m15 0h1m45 0h2m23 0h1m166 0h2m194 0h1m54 0h1m4 0h2m16.5 -0.5v2m79.5 -1.5h2m337 0h5m5 0h2m118.5 -0.5v2m165.5 -1.5h9m14 0h1m59 0h4m2 0h1m-1339 1h1m2 0h2m18 0h1m10.5 -0.5v2m35.5 -1.5h1m21 0h1m169 0h1m189 0h4m56 0h1m1 0h2m95 0h3m46.5 -0.5v4m291.5 -3.5h1m12 0h2m291 0h1m12 0h1m64 0h2m-1337 1h2m21 0h1m46 0h2m17 0h2m171 0h2m176 0h11m61 0h1m21 0h1m70 0h5m340.5 -0.5v2m15.5 -1.5h2m113.5 -0.5v2m176.5 -1.5h1m10 0h1m-1246 1h9m39 0h2m14 0h1m175.5 -0.5v2m175.5 -1.5h1m94.5 -0.5v2m64.5 -1.5h5m283 0h1m79 0h1m15.5 -0.5v2m274.5 -1.5h2m7 0h1m-1195 1h2m10 0h2m351.5 -0.5v2m158.5 -1.5h2m175 0h2m110.5 -0.5v2m2 -2v2m59.5 -1.5h1m19.5 -0.5v2m14 -2v2m96.5 -1.5h1m180 0h1m5 0h1m-1192 1h2m6 0h2m179.5 -0.5v4m270.5 -3.5h1m60 0h1m62.5 -0.5v3m112.5 -2.5h2m2.5 -0.5v2m142.5 -1.5h5m23 0h1m36.5 -0.5v3m93.5 -2.5h1m182 0h1m3 0h1m-1189 1h2m2 0h2m354.5 -0.5v3m98.5 -2.5h1m57 0h2m173 0h3m35.5 -0.5v2m77.5 -1.5h1m3 0h1m28.5 -0.5v2m5.5 -1.5h5m17 0h1m22 0h1m11 0h1m94 0h2m184 0h1m1 0h1m-1186 1h2m456 0h1m54 0h2m173 0h2m8.5 -0.5v2m30.5 -1.5h2m74 0h1m5.5 -0.5v2m38.5 -1.5h3m13.5 -0.5v2m24.5 -1.5h1m9 0h1m94 0h1m187 0h1m-726 1h1m51 0h2m68.5 -0.5v4m105.5 -3.5h1m39.5 -0.5v2m3.5 -1.5h1m72.5 -0.5v2m34 -2v2m14.5 -1.5h2m37.5 -0.5v2m8 -2v2m6 -2v3m77.5 -2.5h3m8 0h1m-809.5 0.5v3m171 -3v3m102.5 -2.5h1m27 0h2m19 0h2m174 0h2m12 0h1m32 0h1m79 0h1m42 0h6m4 0h1m62 0h1m31 0h1m22 0h1m3 0h4m2 0h2m-534 1h1m26 0h1m1 0h2m14 0h3m175 0h1m15.5 -0.5v2m26 -2v2m6.5 -1.5h2m68 0h1m9.5 -0.5v2m24 -2v2m23.5 -1.5h4m28 0h1m5 0h1m27 0h1m1 0h2m27 0h2m1 0h2m19 0h1m8 0h2m-531 1h1m24.5 -0.5v2m4.5 -1.5h2m9 0h3m177 0h1m51 0h1m32 0h1m33 0h1m91 0h1m3 0h1m8.5 -0.5v3m18.5 -2.5h1m4 0h1m24 0h2m5 0h2m16 0h1m-794.5 0.5v3m169 -3v2m106.5 -1.5h1m30 0h2m3 0h4m79.5 -0.5v3m98.5 -2.5h2m18 0h1m23.5 -0.5v3m10.5 -2.5h3m28 0h1m1 0h2m30.5 -0.5v2m12.5 -1.5h1m21 0h1m58.5 -0.5v2m2 -2v2m27.5 -1.5h1m6 0h1m10 0h6m5 0h2m9 0h1m14.5 -0.5v2m-516.5 -0.5h5m17.5 -0.5v2m9.5 -1.5h3m173 0h9m21.5 -0.5v2m36.5 -1.5h4m23.5 -0.5v2m4.5 -1.5h1m43.5 -0.5v2m7.5 -1.5h2m10.5 -0.5v2m88.5 -1.5h1m8 0h2m6 0h2m6 0h5m12 0h2m-752 1h5m107.5 -0.5v2m27 -2v3m113.5 -2.5h4m199 0h1m70 0h2m27 0h1m27 0h1m18 0h4m2 0h2m69 0h1m11.5 -0.5v3m14.5 -2.5h1m11 0h1m2 0h3m27 0h2m9 0h1m-791.5 0.5v4m26.5 -3.5h1m5 0h6m102 0h2m142.5 -0.5v2m12 -2v2m98 -2v4m88 -4v3m32 -3v2m21 -2v2m20.5 -1.5h2m18 0h1m7 0h2m24.5 -0.5v2m16.5 -1.5h3m8 0h1m6.5 -0.5v2m87.5 -1.5h1m13 0h2m32 0h3m5 0h1m-766 1h2m12 0h4m96.5 -0.5v2m3.5 -1.5h2m10 0h2m402 0h2m15 0h1m10 0h1m52 0h1m92 0h1m51 0h2m2 0h1m-766 1h1m18 0h2m100 0h1m7 0h2m2 0h1m8.5 -0.5v3m120 -3v2m10 -2v3m219.5 -2.5h1m18.5 -0.5v3m25.5 -2.5h1m13 0h1m12 0h2m20 0h1m30 0h2m2.5 -0.5v2m76 -2v3m10.5 -2.5h1m54 0h2m-777 1h3m8 0h1m21.5 -0.5v2m93 -2v2m7.5 -1.5h2m2 0h3m5 0h1m323.5 -0.5v3m34.5 -2.5h1m44 0h2m10.5 -0.5v2m15.5 -1.5h2m17 0h1m33 0h1m87 0h1m-730.5 0.5v3m10 -3v2m3.5 -1.5h4m2 0h2m85.5 -0.5v2m39.5 -1.5h2m9 0h2m126 0h1m108.5 -0.5v2m55.5 -1.5h2m64.5 -0.5v2m45.5 -1.5h3m25 0h2m14.5 -0.5v2m35.5 -1.5h1m85.5 -0.5v2m-711.5 -0.5h2m25.5 -0.5v2m60.5 -1.5h1m29.5 -0.5v2m23.5 -1.5h1m3.5 -0.5v2m123 -2v2m7 -2v2m101.5 -1.5h2m52 0h1m2 0h2m78.5 -0.5v2m32.5 -1.5h4m2 0h1m20 0h2m126.5 -0.5v3m-712.5 -1.5h1m94 0h2m2.5 -0.5v2m52.5 -1.5h1m236 0h4m47 0h1m5 0h2m23.5 -0.5v3m37.5 -2.5h1m51 0h2m23 0h2m9 0h1m121 0h1m-727.5 0.5v3m7 -3v2m37.5 -1.5h1m56 0h1m31.5 -0.5v3m26.5 -2.5h2m124 0h1m4.5 -0.5v2m108.5 -1.5h4m42 0h1m8 0h2m60 0h1m12.5 -0.5v2m64.5 -1.5h2m6 0h1m121 0h1m-680.5 0.5v2m54.5 -1.5h1m6.5 -0.5v2m53.5 -1.5h1m125.5 -0.5v2m116.5 -1.5h4m37 0h1m11 0h2m59 0h1m78 0h2m3.5 -0.5v2m118 -2v3m3.5 -2.5h1m-720 1h1m92 0h2m190.5 -0.5v2m117.5 -1.5h10m26 0h1m14 0h2m16.5 -0.5v4m42 -4v2m10 -2v2m69.5 -1.5h2m122.5 -0.5v2m-723 -1v4m4 -4v2m41.5 -1.5h1m50 0h1m10.5 -0.5v2m24 -2v2m156 -2v2m129.5 -1.5h1m24 0h1m17 0h2m65 0h1m72 0h1m-554.5 0.5v2m47.5 -1.5h2m192.5 -0.5v2m130 -2v2m22.5 -1.5h1m20 0h2m55 0h1m3 0h4m193 0h2m-720 1h1m52 0h4m21 0h3m9 0h2m14.5 -0.5v2m22 -2v2m309.5 -1.5h1m23 0h1m55 0h3m197 0h1m-719.5 0.5v2m46 -2v2m5.5 -1.5h2m4 0h4m15 0h2m3 0h4m3 0h2m327 0h1m19.5 -0.5v2m26 -2v2m10 -2v3m-475 -2v2m49.5 -1.5h3m10 0h4m9 0h2m9 0h3m19.5 -0.5v2m20 -2v2m290.5 -1.5h1m-373 1h2m17 0h4m3 0h2m345 0h1m16.5 -0.5v2m27.5 -1.5h1m-396 1h3m36.5 -0.5v2m18 -2v2m294 -2v2m44.5 -1.5h1m6.5 -0.5v3m-347.5 -1.5h1m309.5 -0.5v2m31 -2v2m-357 -1v2m11.5 -1.5h4m296 0h1m-307 1h6m301 0h1m11 0h1m32 0h1m3.5 -0.5v3m-361.5 -1.5h5m308 0h1m9.5 -0.5v2m34.5 -1.5h1m-45 1h1m44.5 -0.5v2m-44.5 -0.5h2m5.5 -0.5v2m38 -2v2m-43.5 -0.5h1m0 1h1m2.5 -0.5v2m-2.5 -0.5h1m0 1h1"/>
<g shape-rendering="auto">
<rect x="1278" y="364" width="171" height="7" fill="#00ff00" shape-rendering="crispEdges"/>
<path d="M1218.0 340.0L1278.2 404.2" stroke="#f00" stroke-width="3.6" stroke-linecap="butt"/>
<path d="M1285.0 411.5L1273.1 406.2L1277.8 403.8L1280.4 399.3Z" fill="#f00"/>
<path d="M1287.0 414.0L1333.9 367.1" stroke="#f00" stroke-width="3.6" stroke-linecap="butt"/>
<path d="M1341.0 360.0L1336.1 372.0L1333.6 367.4L1329.0 364.9Z" fill="#f00"/>
<path d="M1340.0 360.5L1389.6 385.5" stroke="#f00" stroke-width="3.6" stroke-linecap="butt"/>
<path d="M1398.5 390.0L1385.5 389.1L1389.1 385.3L1390.0 380.1Z" fill="#f00"/>
<path d="M1315.5 623.0L1385.7 629.5" stroke="#f00" stroke-width="3.5" stroke-linecap="butt"/>
<path d="M1395.7 630.4L1383.3 634.0L1385.2 629.4L1384.2 624.6Z" fill="#f00"/>
<path d="M1298.0 836.5L1373.0 838.1" stroke="#f00" stroke-width="3.8" stroke-linecap="butt"/>
<path d="M1383.0 838.3L1370.9 842.8L1372.5 838.1L1371.1 833.3Z" fill="#f00"/>
</g>
<g shape-rendering="auto">
<rect x="1651" y="49" width="3" height="1" fill="#000" shape-rendering="crispEdges"/>
<text class="ax" x="1656" y="53.0">29392.5</text>
<rect x="1651" y="82" width="3" height="1" fill="#000" shape-rendering="crispEdges"/>
<text class="ax" x="1656" y="86.0">29178.0</text>
<rect x="1651" y="115" width="3" height="1" fill="#000" shape-rendering="crispEdges"/>
<text class="ax" x="1656" y="119.0">28963.5</text>
<rect x="1651" y="148" width="3" height="1" fill="#000" shape-rendering="crispEdges"/>
<text class="ax" x="1656" y="152.0">28749.0</text>
<rect x="1651" y="181" width="3" height="1" fill="#000" shape-rendering="crispEdges"/>
<text class="ax" x="1656" y="185.0">28534.5</text>
<rect x="1651" y="214" width="3" height="1" fill="#000" shape-rendering="crispEdges"/>
<text class="ax" x="1656" y="218.0">28313.5</text>
<rect x="1651" y="247" width="3" height="1" fill="#000" shape-rendering="crispEdges"/>
<text class="ax" x="1656" y="251.0">28099.0</text>
<rect x="1651" y="280" width="3" height="1" fill="#000" shape-rendering="crispEdges"/>
<text class="ax" x="1656" y="284.0">27884.5</text>
<rect x="1651" y="313" width="3" height="1" fill="#000" shape-rendering="crispEdges"/>
<text class="ax" x="1656" y="317.0">27670.0</text>
<rect x="1651" y="346" width="3" height="1" fill="#000" shape-rendering="crispEdges"/>
<text class="ax" x="1656" y="350.0">27455.5</text>
<rect x="1651" y="379" width="3" height="1" fill="#000" shape-rendering="crispEdges"/>
<text class="ax" x="1656" y="383.0">27241.0</text>
<rect x="1651" y="412" width="3" height="1" fill="#000" shape-rendering="crispEdges"/>
<text class="ax" x="1656" y="416.0">27020.0</text>
<rect x="1651" y="445" width="3" height="1" fill="#000" shape-rendering="crispEdges"/>
<text class="ax" x="1656" y="449.0">26805.5</text>
<rect x="1651" y="478" width="3" height="1" fill="#000" shape-rendering="crispEdges"/>
<text class="ax" x="1656" y="482.0">26591.0</text>
<rect x="1651" y="511" width="3" height="1" fill="#000" shape-rendering="crispEdges"/>
<text class="ax" x="1656" y="515.0">26376.5</text>
<rect x="1651" y="544" width="3" height="1" fill="#000" shape-rendering="crispEdges"/>
<text class="ax" x="1656" y="548.0">26162.0</text>
<rect x="1651" y="577" width="3" height="1" fill="#000" shape-rendering="crispEdges"/>
<text class="ax" x="1656" y="581.0">25947.5</text>
<rect x="1652" y="305" width="42" height="11" fill="#f00" shape-rendering="crispEdges"/>
<text class="ax" x="1656" y="314.0" style="fill:#fff">27682.3</text>
<rect x="1652" y="334" width="42" height="11" fill="#f00" shape-rendering="crispEdges"/>
<text class="ax" x="1656" y="343.0" style="fill:#fff">27493.2</text>
<rect x="1652" y="362" width="42" height="11" fill="#32c832" shape-rendering="crispEdges"/>
<text class="ax" x="1656" y="371.0" style="fill:#fff">27310.6</text>
<rect x="1652" y="375" width="42" height="11" fill="#000" shape-rendering="crispEdges"/>
<text class="ax" x="1656" y="384.0" style="fill:#fff">27230.0</text>
<rect x="1652" y="398" width="42" height="11" fill="#00f" shape-rendering="crispEdges"/>
<text class="ax" x="1656" y="407.0" style="fill:#fff">27075.8</text>
<rect x="1652" y="422" width="42" height="11" fill="#00f" shape-rendering="crispEdges"/>
<text class="ax" x="1656" y="431.0" style="fill:#fff">26919.3</text>
<rect x="1651" y="582" width="3" height="1" fill="#000"/>
<text class="ax" x="1655" y="593">153.38</text>
<rect x="1651" y="644" width="3" height="1" fill="#000"/>
<text class="ax" x="1655" y="648">0.00</text>
<rect x="1651" y="752" width="3" height="1" fill="#000"/>
<text class="ax" x="1653" y="749">-270.14</text>
<text class="ax" x="1655" y="765">100</text>
<text class="ax" x="1653" y="794">80</text>
<text class="ax" x="1653" y="845">50</text>
<text class="ax" x="1653" y="906">15</text>
<text class="ax" x="1655" y="925">0</text>
<text class="ax" x="-10" y="941">28 Dec 2021</text>
<rect x="55" y="929" width="1" height="3" fill="#000" shape-rendering="crispEdges"/>
<text class="ax" x="54" y="941">30 Dec 00:00</text>
<rect x="119" y="929" width="1" height="3" fill="#000" shape-rendering="crispEdges"/>
<text class="ax" x="118" y="941">31 Dec 10:55</text>
<rect x="183" y="929" width="1" height="3" fill="#000" shape-rendering="crispEdges"/>
<text class="ax" x="182" y="941">3 Jan 18:55</text>
<rect x="247" y="929" width="1" height="3" fill="#000" shape-rendering="crispEdges"/>
<text class="ax" x="246" y="941">5 Jan 00:00</text>
<rect x="311" y="929" width="1" height="3" fill="#000" shape-rendering="crispEdges"/>
<text class="ax" x="310" y="941">6 Jan 10:55</text>
<rect x="375" y="929" width="1" height="3" fill="#000" shape-rendering="crispEdges"/>
<text class="ax" x="374" y="941">7 Jan 18:55</text>
<rect x="439" y="929" width="1" height="3" fill="#000" shape-rendering="crispEdges"/>
<text class="ax" x="438" y="941">11 Jan 00:00</text>
<rect x="503" y="929" width="1" height="3" fill="#000" shape-rendering="crispEdges"/>
<text class="ax" x="502" y="941">12 Jan 10:55</text>
<rect x="567" y="929" width="1" height="3" fill="#000" shape-rendering="crispEdges"/>
<text class="ax" x="566" y="941">13 Jan 18:55</text>
<rect x="631" y="929" width="1" height="3" fill="#000" shape-rendering="crispEdges"/>
<text class="ax" x="630" y="941">17 Jan 00:00</text>
<rect x="695" y="929" width="1" height="3" fill="#000" shape-rendering="crispEdges"/>
<text class="ax" x="694" y="941">18 Jan 10:55</text>
<rect x="759" y="929" width="1" height="3" fill="#000" shape-rendering="crispEdges"/>
<text class="ax" x="758" y="941">19 Jan 18:55</text>
<rect x="823" y="929" width="1" height="3" fill="#000" shape-rendering="crispEdges"/>
<text class="ax" x="822" y="941">21 Jan 00:00</text>
<rect x="887" y="929" width="1" height="3" fill="#000" shape-rendering="crispEdges"/>
<text class="ax" x="886" y="941">24 Jan 10:55</text>
<rect x="951" y="929" width="1" height="3" fill="#000" shape-rendering="crispEdges"/>
<text class="ax" x="950" y="941">25 Jan 18:55</text>
<rect x="1015" y="929" width="1" height="3" fill="#000" shape-rendering="crispEdges"/>
<text class="ax" x="1014" y="941">27 Jan 00:00</text>
<rect x="1079" y="929" width="1" height="3" fill="#000" shape-rendering="crispEdges"/>
<text class="ax" x="1078" y="941">28 Jan 10:55</text>
<rect x="1143" y="929" width="1" height="3" fill="#000" shape-rendering="crispEdges"/>
<text class="ax" x="1142" y="941">31 Jan 18:55</text>
<rect x="1207" y="929" width="1" height="3" fill="#000" shape-rendering="crispEdges"/>
<text class="ax" x="1206" y="941">2 Feb 00:00</text>
<rect x="1271" y="929" width="1" height="3" fill="#000" shape-rendering="crispEdges"/>
<text class="ax" x="1270" y="941">3 Feb 10:55</text>
<rect x="1335" y="929" width="1" height="3" fill="#000" shape-rendering="crispEdges"/>
<text class="ax" x="1334" y="941">4 Feb 18:55</text>
<text class="ax" x="6" y="39">JPN225-,H4&#160;&#160;27255.0 27337.5 27225.0 27230.0</text>
<path d="M0 34h3l-1.500 2z" fill="#000"/>
<text class="ax" x="-4" y="595">MACD(12,26,9) 33.81 42.79</text>
<text class="ax" x="-5" y="767">RSI(14) 51.5000</text>
</g>
</svg>
<div style="position:absolute;left:170px;top:44px;width:45px;height:3px;background:#fff"></div><div style="position:absolute;left:213px;top:44px;width:2px;height:60px;background:#fff"></div>
<div id="panel">
<div style="position:absolute;left:0;top:0;width:213px;height:57px;background:#fff"></div>
<div class="btn" style="left:0;width:45px;box-sizing:border-box;padding-right:7px;">SELL</div>
<div class="btn" style="left:161px;width:52px;">BUY</div>
<div id="vol"><div class="sp" style="left:1px;"></div><div class="sp" style="left:90px;"></div>
<div class="t" style="right:24px;top:2px;font-size:12.5px;">1.00</div></div>
<div style="position:absolute;left:0;top:23px;width:42px;height:1px;background:#8a1010"></div>
<div style="position:absolute;left:165px;top:23px;width:44px;height:1px;background:#8a1010"></div>
<div class="pr" style="left:0;width:103px;"><span class="s" style="left:10px;">27228</span><span class="d" style="left:48.500px;">.</span><span class="b" style="left:56px;">5</span></div>
<div class="pr" style="left:105px;width:108px;"><span class="s" style="left:15px;">27251</span><span class="d" style="left:54px;">.</span><span class="b" style="left:62.500px;">5</span></div>
<svg width="213" height="24" style="left:0;top:0"><path d="M55.500 9.500h6l-3 3.500z" fill="#4a5ac0"/><path d="M144.500 12.500h6l-3-3.500z" fill="#4a5ac0"/></svg>
</div>

</body></html>
